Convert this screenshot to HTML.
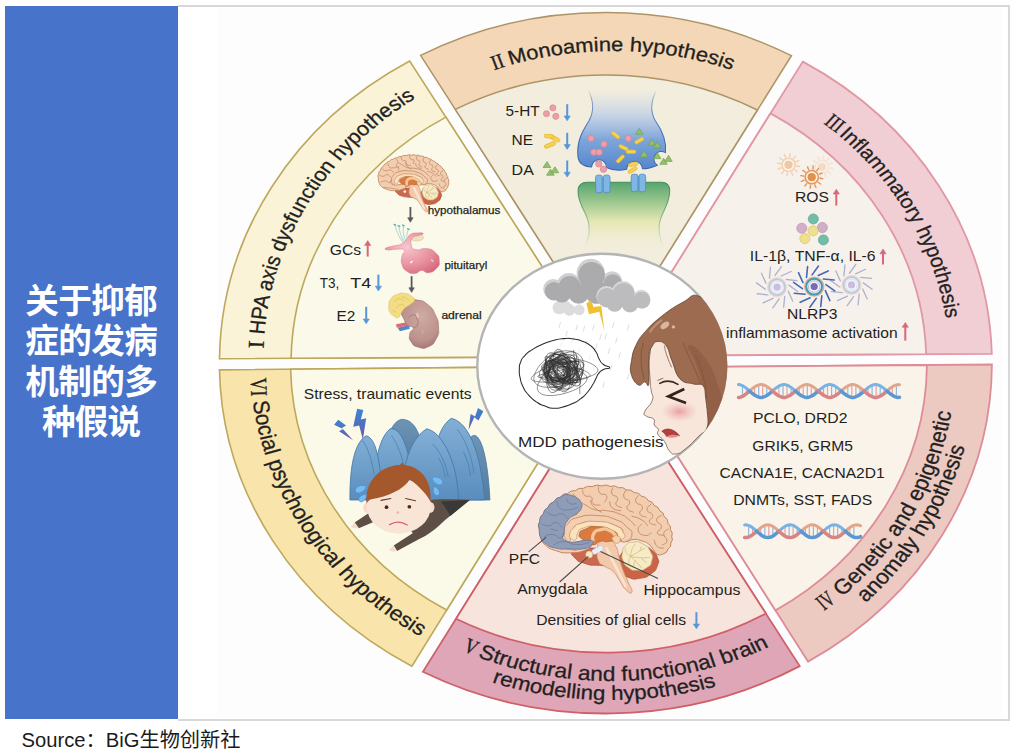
<!DOCTYPE html>
<html><head><meta charset="utf-8"><title>MDD pathogenesis hypotheses</title>
<style>
html,body{margin:0;padding:0;background:#fff;}
body{width:1012px;height:754px;overflow:hidden;font-family:"Liberation Sans",sans-serif;}
svg{display:block;position:absolute;left:0;top:0;}
text{font-family:"Liberation Sans",sans-serif;fill:#231f20;}
.rn{font-family:"Liberation Serif",serif;}
</style></head><body>
<svg width="1012" height="754" viewBox="0 0 1012 754">

<rect x="0" y="0" width="1012" height="754" fill="#fff"/>
<path d="M178 6.1 H1009 V720 H178" fill="none" stroke="#d8d8d8" stroke-width="2"/>
<rect x="217" y="8" width="786" height="710" fill="#fdfdfd"/>
<rect x="5" y="6" width="173" height="713" fill="#4773ca"/>
<text x="91.5" y="312.5" font-size="33.6" font-weight="bold" text-anchor="middle" textLength="132.5" lengthAdjust="spacing" style="fill:#fff;font-family:'Liberation Sans','Noto Sans CJK SC',sans-serif;">关于抑郁</text>
<text x="91.5" y="353" font-size="33.6" font-weight="bold" text-anchor="middle" textLength="132.5" lengthAdjust="spacing" style="fill:#fff;font-family:'Liberation Sans','Noto Sans CJK SC',sans-serif;">症的发病</text>
<text x="91.5" y="393.5" font-size="33.6" font-weight="bold" text-anchor="middle" textLength="132.5" lengthAdjust="spacing" style="fill:#fff;font-family:'Liberation Sans','Noto Sans CJK SC',sans-serif;">机制的多</text>
<text x="91.5" y="434" font-size="33.6" font-weight="bold" text-anchor="middle" textLength="99.2" lengthAdjust="spacing" style="fill:#fff;font-family:'Liberation Sans','Noto Sans CJK SC',sans-serif;">种假说</text>
<text x="21.5" y="747.3" font-size="20" text-anchor="start" textLength="219" lengthAdjust="spacingAndGlyphs" style="fill:#1a1a1a;font-family:'Liberation Sans','Noto Sans CJK SC',sans-serif;">Source：BiG生物创新社</text>
<path d="M991.8 353.9 A386.3 350.5 0 0 0 802.8 61.6 L619.4 355.7 Z" fill="#f0ced4" stroke="#e198a4" stroke-width="1.8" stroke-linejoin="miter"/>
<path d="M926.2 354.2 A320.7 291.0 0 0 0 770.5 113.4 L619.4 355.7 Z" fill="#f7f1ec" stroke="#e198a4" stroke-width="1.8" stroke-linejoin="miter"/>
<path d="M791.4 55.7 A386.3 350.5 0 0 0 420.6 55.4 L608.6 348.2 Z" fill="#f3d7b6" stroke="#ad9466" stroke-width="1.5" stroke-linejoin="miter"/>
<path d="M757.4 110.0 A317.4 288.0 0 0 0 455.3 109.4 L608.6 348.2 Z" fill="#f2eddc" stroke="#ad9466" stroke-width="1.5" stroke-linejoin="miter"/>
<path d="M409.7 61.0 A386.3 350.5 0 0 0 219.5 358.7 L600.0 356.6 Z" fill="#faf3d8" stroke="#bda85c" stroke-width="1.6" stroke-linejoin="miter"/>
<path d="M445.9 117.1 A314.6 285.5 0 0 0 291.1 358.3 L600.0 356.6 Z" fill="#fbf9e9" stroke="#bda85c" stroke-width="1.6" stroke-linejoin="miter"/>
<path d="M219.5 369.9 A386.3 350.5 0 0 0 411.9 666.2 L597.9 366.3 Z" fill="#f9e5ab" stroke="#bda85c" stroke-width="1.6" stroke-linejoin="miter"/>
<path d="M290.6 369.2 A315.2 286.0 0 0 0 446.7 610.0 L597.9 366.3 Z" fill="#fbf9e7" stroke="#bda85c" stroke-width="1.6" stroke-linejoin="miter"/>
<path d="M422.9 671.8 A386.3 350.5 0 0 0 799.7 666.1 L610.1 371.8 Z" fill="#dea6b7" stroke="#cf6068" stroke-width="1.8" stroke-linejoin="miter"/>
<path d="M456.0 618.8 A319.1 289.6 0 0 0 765.9 613.5 L610.1 371.8 Z" fill="#f7e5dd" stroke="#cf6068" stroke-width="1.8" stroke-linejoin="miter"/>
<path d="M808.0 661.6 A386.3 350.5 0 0 0 991.9 364.5 L621.2 367.6 Z" fill="#ecc9c1" stroke="#de8c96" stroke-width="1.8" stroke-linejoin="miter"/>
<path d="M775.5 610.4 A321.2 291.5 0 0 0 926.9 365.0 L621.2 367.6 Z" fill="#f9f3e9" stroke="#de8c96" stroke-width="1.8" stroke-linejoin="miter"/>
<g transform="translate(373.42,150.96) scale(0.08439)"><path d="M578.0 470.0 C594.7 443.3 582.7 456.7 610.0 440.0 C637.3 423.3 623.3 424.0 660.0 420.0 C696.7 416.0 684.0 416.0 720.0 428.0 C756.0 440.0 741.3 432.0 768.0 456.0 C794.7 480.0 789.3 468.7 800.0 500.0 C810.7 531.3 813.3 516.0 800.0 550.0 C786.7 584.0 796.7 575.3 760.0 602.0 C723.3 628.7 736.7 622.3 690.0 630.0 C643.3 637.7 656.7 638.3 620.0 625.0 C583.3 611.7 600.0 625.0 580.0 590.0 C560.0 555.0 560.7 560.0 560.0 520.0 C559.3 480.0 561.3 496.7 578.0 470.0Z" fill="#cb6446" stroke="#ab4e34" stroke-width="7.8"/>
<path d="M268.0 462.0 C283.0 443.7 279.3 457.3 330.0 450.0 C380.7 442.7 356.7 440.0 420.0 440.0 C483.3 440.0 480.0 430.0 520.0 450.0 C560.0 470.0 546.7 470.0 540.0 500.0 C533.3 530.0 540.0 524.0 500.0 540.0 C460.0 556.0 473.3 549.7 420.0 548.0 C366.7 546.3 385.0 549.3 340.0 535.0 C295.0 520.7 309.0 529.3 285.0 505.0 C261.0 480.7 253.0 480.3 268.0 462.0Z" fill="#cd6850" stroke="#ab4e34" stroke-width="7.8"/>
<path d="M440.0 400.0 C465.0 381.7 466.7 385.0 500.0 395.0 C533.3 405.0 520.0 395.0 540.0 430.0 C560.0 465.0 545.0 450.0 560.0 500.0 C575.0 550.0 566.7 530.0 585.0 580.0 C603.3 630.0 596.7 605.0 615.0 650.0 C633.3 695.0 645.0 698.3 640.0 715.0 C635.0 731.7 626.7 725.0 600.0 700.0 C573.3 675.0 586.7 678.3 560.0 640.0 C533.3 601.7 550.0 613.3 520.0 585.0 C490.0 556.7 500.0 576.7 470.0 555.0 C440.0 533.3 445.0 555.0 430.0 520.0 C415.0 485.0 421.7 490.0 425.0 450.0 C428.3 410.0 415.0 418.3 440.0 400.0Z" fill="#f2c9ab" stroke="#c98c6a" stroke-width="7.8"/>
<path d="M480.0 440.0 C493.3 466.7 493.3 466.7 520.0 520.0 C546.7 573.3 533.3 546.7 560.0 600.0 C586.7 653.3 586.7 653.3 600.0 680.0" fill="none" stroke="#fbe3cf" stroke-width="26.0" stroke-linecap="round"/>
<path d="M58 320 Q45.1 294.8 62 272 Q59.5 242.5 84 226 Q85.7 197.4 112 186 Q120.7 157.1 150 150 Q162.3 122.8 192 120 Q207.3 95.6 236 98 Q255.3 74.9 285 80 Q305.7 58.1 335 65 Q359.6 44.8 390 54 Q419.0 37.0 450 50 Q478.3 36.5 505 53 Q532.8 42.2 556 61 Q585.0 53.6 606 75 Q635.4 69.3 655 92 Q684.3 90.1 700 115 Q729.1 115.9 742 142 Q770.5 145.9 780 173 Q807.8 178.6 815 206 Q841.0 215.4 843 243 Q867.7 256.8 866 285 Q887.9 299.4 882 325 Q900.7 343.8 890 368 Q901.8 390.2 884 408 Q889.7 432.1 868 444 Q862.3 471.4 835 478 C824.5 478.6 818.0 488.4 800.0 480.0 C782.0 471.6 791.5 469.5 775.0 450.0 C758.5 430.5 767.5 431.8 745.0 415.0 C722.5 398.2 728.5 402.7 700.0 394.0 C671.5 385.3 680.0 384.2 650.0 386.0 C620.0 387.8 625.5 400.3 600.0 400.0 C574.5 399.7 565.0 404.5 565.0 385.0 C565.0 365.5 601.5 367.1 600.0 335.0 C598.5 302.9 614.0 305.3 560.0 278.0 C506.0 250.7 498.0 250.6 420.0 244.0 C342.0 237.4 358.8 231.7 300.0 256.0 C241.2 280.3 244.4 282.4 224.0 325.0 C203.6 367.6 187.6 377.9 232.0 398.0 C276.4 418.1 326.4 385.4 372.0 392.0 C417.6 398.6 390.6 402.0 384.0 420.0 C377.4 438.0 390.2 437.0 350.0 452.0 C309.8 467.0 307.0 469.1 250.0 470.0 C193.0 470.9 206.5 470.0 160.0 455.0 C113.5 440.0 123.2 444.9 95.0 420.0 C66.8 395.1 77.1 402.0 66.0 372.0 C54.9 342.0 60.4 335.6 58.0 320.0 Z" fill="#f3cdb0" stroke="#b97f58" stroke-width="9.4" stroke-linejoin="round"/>
<path d="M215.0 335.0 C220.0 301.7 211.7 314.0 240.0 285.0 C268.3 256.0 240.0 264.3 300.0 248.0 C360.0 231.7 340.0 231.3 420.0 236.0 C500.0 240.7 476.7 237.3 540.0 262.0 C603.3 286.7 576.7 280.7 610.0 310.0 C643.3 339.3 640.0 321.7 640.0 350.0 C640.0 378.3 633.3 383.3 610.0 395.0 C586.7 406.7 578.3 401.7 570.0 385.0 C561.7 368.3 595.0 373.3 585.0 345.0 C575.0 316.7 595.0 323.0 540.0 300.0 C485.0 277.0 496.7 279.3 420.0 276.0 C343.3 272.7 362.7 268.7 310.0 290.0 C257.3 311.3 282.0 305.0 262.0 340.0 C242.0 375.0 262.3 380.0 250.0 395.0 C237.7 410.0 236.7 405.0 225.0 385.0 C213.3 365.0 210.0 368.3 215.0 335.0Z" fill="#f3ceb0" stroke="#b97f58" stroke-width="7.8"/>
<path d="M250.0 352.0 C255.7 329.3 251.7 334.3 275.0 312.0 C298.3 289.7 271.7 298.0 320.0 285.0 C368.3 272.0 350.0 269.3 420.0 273.0 C490.0 276.7 474.0 272.0 530.0 296.0 C586.0 320.0 569.7 317.0 588.0 345.0 C606.3 373.0 596.0 371.0 585.0 380.0 C574.0 389.0 576.7 388.7 555.0 372.0 C533.3 355.3 565.0 352.3 520.0 330.0 C475.0 307.7 481.7 310.0 420.0 305.0 C358.3 300.0 375.0 301.7 335.0 315.0 C295.0 328.3 315.0 321.7 300.0 345.0 C285.0 368.3 304.0 373.3 290.0 385.0 C276.0 396.7 271.3 391.0 258.0 380.0 C244.7 369.0 244.3 374.7 250.0 352.0Z" fill="#f9e2bc" stroke="#c9966c" stroke-width="7.8"/>
<path d="M310.0 350.0 C316.7 328.3 313.3 334.7 350.0 320.0 C386.7 305.3 365.0 303.3 420.0 306.0 C475.0 308.7 469.7 306.0 515.0 328.0 C560.3 350.0 541.0 348.0 556.0 372.0 C571.0 396.0 572.0 392.3 560.0 400.0 C548.0 407.7 546.7 395.0 520.0 395.0 C493.3 395.0 506.7 399.0 480.0 400.0 C453.3 401.0 466.7 391.3 440.0 398.0 C413.3 404.7 422.7 419.3 400.0 420.0 C377.3 420.7 395.3 411.7 372.0 400.0 C348.7 388.3 350.7 401.7 330.0 385.0 C309.3 368.3 303.3 371.7 310.0 350.0Z" fill="#db7a3e" stroke="#b8602c" stroke-width="7.8"/>
<path d="M395.0 395.0 C396.7 380.0 385.0 373.3 400.0 350.0 C415.0 326.7 406.7 331.7 440.0 325.0 C473.3 318.3 466.7 316.7 500.0 330.0 C533.3 343.3 526.7 353.3 540.0 365.0" fill="none" stroke="#f3c79a" stroke-width="33.8" stroke-linecap="round"/>
<path d="M520.0 372.0 C530.0 361.3 540.7 359.3 556.0 366.0 C571.3 372.7 568.7 377.3 566.0 392.0 C563.3 406.7 561.3 408.0 548.0 410.0 C534.7 412.0 535.3 410.7 526.0 398.0 C516.7 385.3 510.0 382.7 520.0 372.0Z" fill="#f5d2a8" stroke="#c9966c" stroke-width="6.5"/>
<path d="M330.0 75.0 C335.0 86.7 326.7 95.0 345.0 110.0 C363.3 125.0 368.3 103.3 385.0 120.0 C401.7 136.7 376.7 143.3 395.0 160.0 C413.3 176.7 425.0 166.7 440.0 170.0" fill="none" stroke="#b97f58" stroke-width="7.8" stroke-linecap="round"/>
<path d="M430.0 56.0 C433.3 69.0 423.3 77.0 440.0 95.0 C456.7 113.0 470.0 91.7 480.0 110.0 C490.0 128.3 473.3 136.7 470.0 150.0" fill="none" stroke="#b97f58" stroke-width="7.8" stroke-linecap="round"/>
<path d="M520.0 62.0 C518.3 74.7 505.0 79.0 515.0 100.0 C525.0 121.0 541.7 103.3 550.0 125.0 C558.3 146.7 531.7 145.0 540.0 165.0 C548.3 185.0 563.3 178.3 575.0 185.0" fill="none" stroke="#b97f58" stroke-width="7.8" stroke-linecap="round"/>
<path d="M600.0 80.0 C596.7 93.3 581.7 96.7 590.0 120.0 C598.3 143.3 618.3 126.7 625.0 150.0 C631.7 173.3 601.7 168.3 610.0 190.0 C618.3 211.7 636.7 206.7 650.0 215.0" fill="none" stroke="#b97f58" stroke-width="7.8" stroke-linecap="round"/>
<path d="M680.0 110.0 C675.0 123.3 656.7 126.7 665.0 150.0 C673.3 173.3 696.7 155.0 705.0 180.0 C713.3 205.0 681.7 203.3 690.0 225.0 C698.3 246.7 716.7 238.3 730.0 245.0" fill="none" stroke="#b97f58" stroke-width="7.8" stroke-linecap="round"/>
<path d="M760.0 165.0 C751.7 176.7 731.7 176.7 735.0 200.0 C738.3 223.3 765.0 210.0 770.0 235.0 C775.0 260.0 743.3 255.0 750.0 275.0 C756.7 295.0 776.7 288.3 790.0 295.0" fill="none" stroke="#b97f58" stroke-width="7.8" stroke-linecap="round"/>
<path d="M825.0 235.0 C815.0 245.0 795.0 241.7 795.0 265.0 C795.0 288.3 823.3 278.3 825.0 305.0 C826.7 331.7 795.0 326.7 800.0 345.0 C805.0 363.3 826.7 355.0 840.0 360.0" fill="none" stroke="#b97f58" stroke-width="7.8" stroke-linecap="round"/>
<path d="M870.0 320.0 C860.0 330.0 843.3 325.0 840.0 350.0 C836.7 375.0 863.3 371.7 860.0 395.0 C856.7 418.3 840.0 411.7 830.0 420.0" fill="none" stroke="#b97f58" stroke-width="7.8" stroke-linecap="round"/>
<path d="M300.0 140.0 C316.7 150.0 313.3 150.0 350.0 170.0 C386.7 190.0 366.7 188.3 410.0 200.0 C453.3 211.7 430.0 196.7 480.0 205.0 C530.0 213.3 513.3 206.7 560.0 225.0 C606.7 243.3 586.7 235.0 620.0 260.0 C653.3 285.0 646.7 286.7 660.0 300.0" fill="none" stroke="#b97f58" stroke-width="7.8" stroke-linecap="round"/>
<path d="M700.0 290.0 C693.3 303.3 673.3 306.7 680.0 330.0 C686.7 353.3 693.3 355.0 720.0 360.0 C746.7 365.0 746.7 350.0 760.0 345.0" fill="none" stroke="#b97f58" stroke-width="7.8" stroke-linecap="round"/>
<path d="M640.0 240.0 C660.0 247.3 666.7 242.0 700.0 262.0 C733.3 282.0 726.7 287.3 740.0 300.0" fill="none" stroke="#b97f58" stroke-width="7.8" stroke-linecap="round"/>
<path d="M780.0 390.0 C786.7 403.3 780.0 413.3 800.0 430.0 C820.0 446.7 826.7 436.7 840.0 440.0" fill="none" stroke="#b97f58" stroke-width="7.8" stroke-linecap="round"/>
<path d="M270.0 100.0 C276.7 111.7 290.0 111.7 290.0 135.0 C290.0 158.3 266.7 148.3 270.0 170.0 C273.3 191.7 293.3 179.3 300.0 200.0 C306.7 220.7 293.3 221.3 290.0 232.0" fill="none" stroke="#b97f58" stroke-width="7.8" stroke-linecap="round"/>
<path d="M380.0 140.0 C386.7 153.3 376.7 155.0 400.0 180.0 C423.3 205.0 433.3 203.3 450.0 215.0" fill="none" stroke="#b97f58" stroke-width="7.8" stroke-linecap="round"/>
<path d="M500.0 150.0 C506.7 163.3 496.7 171.7 520.0 190.0 C543.3 208.3 553.3 200.0 570.0 205.0" fill="none" stroke="#b97f58" stroke-width="7.8" stroke-linecap="round"/>
<path d="M120.0 430.0 C146.7 433.3 143.3 431.7 200.0 440.0 C256.7 448.3 260.0 450.0 290.0 455.0" fill="none" stroke="#b97f58" stroke-width="7.8" stroke-linecap="round"/>
<path d="M170.0 150.0 C176.7 163.3 166.7 173.3 190.0 190.0 C213.3 206.7 203.3 201.7 240.0 200.0 C276.7 198.3 280.0 190.0 300.0 185.0" fill="none" stroke="#b97f58" stroke-width="7.8" stroke-linecap="round"/>
<path d="M110.0 215.0 C123.3 221.7 120.0 231.7 150.0 235.0 C180.0 238.3 171.7 218.3 200.0 225.0 C228.3 231.7 223.3 245.0 235.0 255.0" fill="none" stroke="#b97f58" stroke-width="7.8" stroke-linecap="round"/>
<path d="M75.0 290.0 C90.0 293.3 91.7 303.3 120.0 300.0 C148.3 296.7 133.3 276.7 160.0 280.0 C186.7 283.3 186.7 300.0 200.0 310.0" fill="none" stroke="#b97f58" stroke-width="7.8" stroke-linecap="round"/>
<path d="M90.0 370.0 C106.7 365.0 106.7 353.3 140.0 355.0 C173.3 356.7 165.0 376.7 190.0 375.0 C215.0 373.3 206.7 358.3 215.0 350.0" fill="none" stroke="#b97f58" stroke-width="7.8" stroke-linecap="round"/>
<path d="M580.0 470.0 C585.0 438.3 576.7 447.7 600.0 425.0 C623.3 402.3 613.3 405.3 650.0 402.0 C686.7 398.7 675.0 395.7 710.0 415.0 C745.0 434.3 736.7 425.0 755.0 460.0 C773.3 495.0 773.3 485.0 765.0 520.0 C756.7 555.0 761.7 545.0 730.0 565.0 C698.3 585.0 708.3 581.7 670.0 580.0 C631.7 578.3 643.3 580.0 615.0 560.0 C586.7 540.0 596.7 550.0 585.0 520.0 C573.3 490.0 575.0 501.7 580.0 470.0Z" fill="#f7ebc6" stroke="#c7ab78" stroke-width="7.8"/>
<path d="M632.0 492.0 C644.7 484.7 640.7 487.3 670.0 470.0 C699.3 452.7 703.3 450.0 720.0 440.0" fill="none" stroke="#cdb07c" stroke-width="6.5" stroke-linecap="round"/>
<path d="M632.0 492.0 C648.0 494.7 640.7 497.3 680.0 500.0 C719.3 502.7 726.7 500.0 750.0 500.0" fill="none" stroke="#cdb07c" stroke-width="6.5" stroke-linecap="round"/>
<path d="M632.0 492.0 C644.7 504.7 647.3 505.7 670.0 530.0 C692.7 554.3 690.0 553.3 700.0 565.0" fill="none" stroke="#cdb07c" stroke-width="6.5" stroke-linecap="round"/>
<path d="M632.0 492.0 C634.7 478.0 630.7 475.7 640.0 450.0 C649.3 424.3 653.3 426.7 660.0 415.0" fill="none" stroke="#cdb07c" stroke-width="6.5" stroke-linecap="round"/>
<path d="M632.0 492.0 C628.0 504.7 617.3 507.3 620.0 530.0 C622.7 552.7 633.3 550.0 640.0 560.0" fill="none" stroke="#cdb07c" stroke-width="6.5" stroke-linecap="round"/>
<path d="M632.0 492.0 C623.0 484.7 616.3 487.3 605.0 470.0 C593.7 452.7 600.3 450.0 598.0 440.0" fill="none" stroke="#cdb07c" stroke-width="6.5" stroke-linecap="round"/>
<path d="M690.0 455.0 C693.3 446.7 696.7 438.3 700.0 430.0" fill="none" stroke="#cdb07c" stroke-width="6.5" stroke-linecap="round"/>
<path d="M700.0 505.0 C710.0 513.3 720.0 521.7 730.0 530.0" fill="none" stroke="#cdb07c" stroke-width="6.5" stroke-linecap="round"/>
<path d="M660.0 520.0 C656.7 530.0 653.3 540.0 650.0 550.0" fill="none" stroke="#cdb07c" stroke-width="6.5" stroke-linecap="round"/><circle cx="372" cy="481" r="16" fill="#fbf0d0"/></g>
<path d="M410.4 207.0 L410.4 218.6" stroke="#58585a" stroke-width="1.8" fill="none"/><path d="M407.7 217.7 L410.4 222.3 L413.1 217.7 Z" fill="#58585a" stroke="#58585a" stroke-width=".6" stroke-linejoin="round"/>
<path d="M411.6 276.2 L411.6 288.7" stroke="#58585a" stroke-width="1.8" fill="none"/><path d="M408.9 287.8 L411.6 292.4 L414.3 287.8 Z" fill="#58585a" stroke="#58585a" stroke-width=".6" stroke-linejoin="round"/>
<g transform="translate(375,218) scale(0.17762)">
<defs><radialGradient id="pitG" cx="40%" cy="35%" r="75%"><stop offset="0" stop-color="#f7c6cf"/><stop offset="0.6" stop-color="#e9929f"/><stop offset="1" stop-color="#d4697f"/></radialGradient><radialGradient id="kidG" cx="55%" cy="35%" r="75%"><stop offset="0" stop-color="#cfaaa4"/><stop offset="0.65" stop-color="#bd928c"/><stop offset="1" stop-color="#976c68"/></radialGradient></defs>
<path d="M160 140 Q122 89 112 38" stroke="#b7d8cf" stroke-width="6" fill="none"/>
<ellipse cx="112" cy="38" rx="9" ry="5" fill="#5fb7ad" transform="rotate(25 112 38)"/>
<path d="M168 138 Q137 91 135 45" stroke="#b7d8cf" stroke-width="6" fill="none"/>
<ellipse cx="135" cy="45" rx="9" ry="5" fill="#5fb7ad" transform="rotate(25 135 45)"/>
<path d="M176 136 Q154 89 160 42" stroke="#b7d8cf" stroke-width="6" fill="none"/>
<ellipse cx="160" cy="42" rx="9" ry="5" fill="#5fb7ad" transform="rotate(25 160 42)"/>
<path d="M184 134 Q172 98 188 62" stroke="#b7d8cf" stroke-width="6" fill="none"/>
<ellipse cx="188" cy="62" rx="9" ry="5" fill="#5fb7ad" transform="rotate(25 188 62)"/>
<ellipse cx="238" cy="112" rx="36" ry="18" fill="#ede2bc" stroke="#cdbd8c" stroke-width="2.5" transform="rotate(-6 238 112)"/>
<path d="M58.0 172.0 C64.0 165.4 72.4 165.8 100.0 158.0 C127.6 150.2 126.6 157.4 150.0 146.0 C173.4 134.6 163.0 136.2 178.0 120.0 C193.0 103.8 181.4 102.8 200.0 92.0 C218.6 81.2 218.4 85.2 240.0 84.0 C261.6 82.8 272.0 83.2 272.0 88.0 C272.0 92.8 258.0 92.8 240.0 100.0 C222.0 107.2 222.8 97.0 212.0 112.0 C201.2 127.0 198.6 130.2 204.0 150.0 C209.4 169.8 204.2 171.4 230.0 178.0 C255.8 184.6 257.0 166.9 290.0 172.0 C323.0 177.1 318.4 174.6 340.0 195.0 C361.6 215.4 360.5 213.0 362.0 240.0 C363.5 267.0 363.6 264.6 345.0 285.0 C326.4 305.4 324.9 304.7 300.0 308.0 C275.1 311.3 284.5 294.8 262.0 296.0 C239.5 297.2 249.6 310.8 225.0 312.0 C200.4 313.2 201.9 315.0 180.0 300.0 C158.1 285.0 160.4 287.5 152.0 262.0 C143.6 236.5 148.1 239.0 152.0 215.0 C155.9 191.0 174.6 193.7 165.0 182.0 C155.4 170.3 145.5 176.6 120.0 176.0 C94.5 175.4 98.6 181.2 80.0 180.0 C61.4 178.8 52.0 178.6 58.0 172.0Z" fill="url(#pitG)" stroke="#cf6f86" stroke-width="2.5"/>
<ellipse cx="205" cy="248" rx="10" ry="5" fill="#fff" opacity=".8" transform="rotate(-35 205 248)"/>
<ellipse cx="322" cy="240" rx="9" ry="5" fill="#fff" opacity=".6" transform="rotate(40 322 240)"/>
<path d="M118 598 L185 585 L190 605 L123 618Z" fill="#db6f6f"/>
<path d="M128 618 L190 604 L196 624 L140 638Z" fill="#5c82cc"/>
<path d="M150.0 520.0 C156.0 490.0 158.0 492.4 185.0 475.0 C212.0 457.6 205.5 457.5 240.0 462.0 C274.5 466.5 270.0 465.1 300.0 490.0 C330.0 514.9 322.6 507.5 340.0 545.0 C357.4 582.5 356.5 574.5 358.0 615.0 C359.5 655.5 362.4 647.0 345.0 680.0 C327.6 713.0 330.0 710.6 300.0 725.0 C270.0 739.4 273.5 735.5 245.0 728.0 C216.5 720.5 220.0 721.9 205.0 700.0 C190.0 678.1 192.0 679.0 195.0 655.0 C198.0 631.0 218.0 635.0 215.0 620.0 C212.0 605.0 200.0 618.5 185.0 605.0 C170.0 591.5 175.5 600.5 165.0 575.0 C154.5 549.5 144.0 550.0 150.0 520.0Z" fill="url(#kidG)" stroke="#86605c" stroke-width="2.5"/>
<path d="M190.0 560.0 C198.3 555.0 200.0 543.3 215.0 545.0 C230.0 546.7 226.7 546.7 235.0 565.0 C243.3 583.3 245.0 582.3 240.0 600.0 C235.0 617.7 226.7 612.0 220.0 618.0" fill="none" stroke="#8d615e" stroke-width="3"/>
<ellipse cx="240" cy="548" rx="8" ry="16" fill="#e4c5c0" opacity=".8" transform="rotate(-20 240 548)"/>
<ellipse cx="268" cy="640" rx="5" ry="14" fill="#d4b2ae" opacity=".7" transform="rotate(10 268 640)"/>
<path d="M78.0 495.0 C79.7 470.0 74.3 476.7 90.0 455.0 C105.7 433.3 98.3 440.0 125.0 430.0 C151.7 420.0 143.3 421.7 170.0 425.0 C196.7 428.3 187.7 427.7 205.0 440.0 C222.3 452.3 223.7 447.0 222.0 462.0 C220.3 477.0 217.3 470.7 200.0 485.0 C182.7 499.3 186.7 490.0 170.0 505.0 C153.3 520.0 163.3 511.7 150.0 530.0 C136.7 548.3 145.0 553.3 130.0 560.0 C115.0 566.7 120.0 560.0 105.0 550.0 C90.0 540.0 94.0 548.3 85.0 530.0 C76.0 511.7 76.3 520.0 78.0 495.0Z" fill="#f3dd84" stroke="#d9be5e" stroke-width="3"/>
<path d="M110.0 470.0 C118.3 465.0 118.3 456.7 135.0 455.0 C151.7 453.3 151.7 461.7 160.0 465.0" fill="none" stroke="#d2b552" stroke-width="3" stroke-linecap="round"/>
<path d="M120.0 505.0 C126.7 500.0 125.0 495.0 140.0 490.0 C155.0 485.0 156.7 490.0 165.0 490.0" fill="none" stroke="#d2b552" stroke-width="3" stroke-linecap="round"/>
<path d="M150.0 445.0 C158.3 446.7 161.7 443.3 175.0 450.0 C188.3 456.7 185.0 460.0 190.0 465.0" fill="none" stroke="#d2b552" stroke-width="3" stroke-linecap="round"/>
<path d="M100.0 520.0 C106.0 523.3 112.0 526.7 118.0 530.0" fill="none" stroke="#d2b552" stroke-width="3" stroke-linecap="round"/>
</g>
<text x="427.8" y="213.6" font-size="10.9" text-anchor="start" fill="#231f20" textLength="72.6" lengthAdjust="spacingAndGlyphs" stroke="#231f20" stroke-width=".25">hypothalamus</text>
<text x="444.4" y="268.5" font-size="10.9" text-anchor="start" fill="#231f20" textLength="43.0" lengthAdjust="spacingAndGlyphs" stroke="#231f20" stroke-width=".25">pituitaryl</text>
<text x="441.4" y="318.7" font-size="10.9" text-anchor="start" fill="#231f20" textLength="40.4" lengthAdjust="spacingAndGlyphs" stroke="#231f20" stroke-width=".25">adrenal</text>
<text x="329.8" y="254.5" font-size="14.2" text-anchor="start" fill="#231f20" textLength="31.4" lengthAdjust="spacingAndGlyphs" >GCs</text>
<path d="M367.7 256.6 L367.7 244.4" stroke="#d9667b" stroke-width="2.0" fill="none"/><path d="M364.6 245.4 L367.7 240.6 L370.8 245.4 Z" fill="#d9667b" stroke="#d9667b" stroke-width=".6" stroke-linejoin="round"/>
<text x="319.8" y="287.5" font-size="14.2" text-anchor="start" fill="#231f20" textLength="19.5" lengthAdjust="spacingAndGlyphs" >T3,</text>
<text x="350.3" y="287.5" font-size="14.2" text-anchor="start" fill="#231f20" textLength="21.0" lengthAdjust="spacingAndGlyphs" >T4</text>
<path d="M378.4 274.6 L378.4 287.2" stroke="#5797d8" stroke-width="2.0" fill="none"/><path d="M375.3 286.2 L378.4 291.0 L381.5 286.2 Z" fill="#5797d8" stroke="#5797d8" stroke-width=".6" stroke-linejoin="round"/>
<text x="336.6" y="321.0" font-size="14.2" text-anchor="start" fill="#231f20" textLength="18.8" lengthAdjust="spacingAndGlyphs" >E2</text>
<path d="M366.2 306.8 L366.2 320.0" stroke="#5797d8" stroke-width="2.0" fill="none"/><path d="M363.1 319.0 L366.2 323.8 L369.3 319.0 Z" fill="#5797d8" stroke="#5797d8" stroke-width=".6" stroke-linejoin="round"/>
<g transform="translate(560,85) scale(0.22533)">
<defs>
<linearGradient id="preG" x1="0" y1="0" x2="0" y2="1"><stop offset="0" stop-color="#c9d6ea" stop-opacity="0"/><stop offset="0.3" stop-color="#bccde8" stop-opacity=".75"/><stop offset="0.62" stop-color="#7da5da"/><stop offset="1" stop-color="#5486cc"/></linearGradient>
<linearGradient id="preS" x1="0" y1="0" x2="0" y2="1"><stop offset="0" stop-color="#3f6db5" stop-opacity="0"/><stop offset="0.1" stop-color="#3f6db5" stop-opacity=".5"/><stop offset="0.5" stop-color="#3f6db5"/><stop offset="1" stop-color="#3a66ad"/></linearGradient>
<linearGradient id="postG" x1="0" y1="0" x2="0" y2="1"><stop offset="0" stop-color="#58a56f"/><stop offset="0.3" stop-color="#9cc78e"/><stop offset="0.6" stop-color="#e3e6ae" stop-opacity=".9"/><stop offset="1" stop-color="#f2eecb" stop-opacity="0"/></linearGradient>
<linearGradient id="postS" x1="0" y1="0" x2="0" y2="1"><stop offset="0" stop-color="#3f8f5b"/><stop offset="0.5" stop-color="#3f8f5b" stop-opacity=".6"/><stop offset="1" stop-color="#3f8f5b" stop-opacity="0"/></linearGradient>
</defs>
<path d="M125 22 C150 70 150 120 128 160 C100 205 72 250 80 320 C84 350 110 362 140 364 A33 33 0 0 1 206 366 C235 380 270 380 296 374 A35 35 0 0 1 366 372 C390 372 410 366 432 356 A30 30 0 0 1 468 300 C474 250 452 200 424 160 C400 120 404 70 428 22 Z" fill="url(#preG)"/>
<path d="M125 22 C150 70 150 120 128 160 C100 205 72 250 80 320 C84 350 110 362 140 364 A33 33 0 0 1 206 366 C235 380 270 380 296 374 A35 35 0 0 1 366 372 C390 372 410 366 432 356 A30 30 0 0 1 468 300 C474 250 452 200 424 160 C400 120 404 70 428 22" fill="none" stroke="url(#preS)" stroke-width="4.5"/>
<path d="M108 722 C140 660 132 610 112 570 C90 528 78 500 80 468 C82 444 96 432 120 432 L450 432 C474 432 486 444 487 468 C488 500 476 530 456 570 C436 610 430 660 462 722 Z" fill="url(#postG)"/>
<path d="M108 722 C140 660 132 610 112 570 C90 528 78 500 80 468 C82 444 96 432 120 432 L450 432 C474 432 486 444 487 468 C488 500 476 530 456 570 C436 610 430 660 462 722" fill="none" stroke="url(#postS)" stroke-width="4.5"/>
<rect x="158" y="400" width="30" height="78" rx="10" fill="#7fb6e4" stroke="#4c8ac4" stroke-width="3.5"/><rect x="192" y="400" width="30" height="78" rx="10" fill="#7fb6e4" stroke="#4c8ac4" stroke-width="3.5"/><rect x="185" y="408" width="10" height="62" rx="4" fill="#5d9dd4"/>
<rect x="316" y="396" width="30" height="78" rx="10" fill="#7fb6e4" stroke="#4c8ac4" stroke-width="3.5"/><rect x="350" y="396" width="30" height="78" rx="10" fill="#7fb6e4" stroke="#4c8ac4" stroke-width="3.5"/><rect x="343" y="404" width="10" height="62" rx="4" fill="#5d9dd4"/>
<circle cx="138" cy="237" r="14" fill="#ec9fa8" stroke="#d97f8c" stroke-width="3"/>
<circle cx="195" cy="262" r="14" fill="#ec9fa8" stroke="#d97f8c" stroke-width="3"/>
<circle cx="150" cy="298" r="14" fill="#ec9fa8" stroke="#d97f8c" stroke-width="3"/>
<circle cx="174" cy="298" r="14" fill="#ec9fa8" stroke="#d97f8c" stroke-width="3"/>
<circle cx="303" cy="237" r="14" fill="#ec9fa8" stroke="#d97f8c" stroke-width="3"/>
<circle cx="172" cy="350" r="14" fill="#ec9fa8" stroke="#d97f8c" stroke-width="3"/>
<circle cx="193" cy="374" r="14" fill="#ec9fa8" stroke="#d97f8c" stroke-width="3"/>
<rect x="225.0" y="214.5" width="44" height="15" rx="7.5" fill="#f5d34f" stroke="#e3b32f" stroke-width="3" transform="rotate(40 247 222)"/>
<rect x="330.0" y="239.5" width="44" height="15" rx="7.5" fill="#f5d34f" stroke="#e3b32f" stroke-width="3" transform="rotate(-30 352 247)"/>
<rect x="260.0" y="270.5" width="44" height="15" rx="7.5" fill="#f5d34f" stroke="#e3b32f" stroke-width="3" transform="rotate(25 282 278)"/>
<rect x="293.0" y="288.5" width="44" height="15" rx="7.5" fill="#f5d34f" stroke="#e3b32f" stroke-width="3" transform="rotate(0 315 296)"/>
<rect x="246.0" y="320.5" width="44" height="15" rx="7.5" fill="#f5d34f" stroke="#e3b32f" stroke-width="3" transform="rotate(-45 268 328)"/>
<rect x="303.0" y="344.5" width="44" height="15" rx="7.5" fill="#f5d34f" stroke="#e3b32f" stroke-width="3" transform="rotate(-12 325 352)"/>
<rect x="300.0" y="370.5" width="44" height="15" rx="7.5" fill="#f5d34f" stroke="#e3b32f" stroke-width="3" transform="rotate(-30 322 378)"/>
<path d="M352 192 L368 219 L335 219 Z" fill="#94c06d" stroke="#70a04d" stroke-width="3" stroke-linejoin="round"/>
<path d="M408 240 L424 267 L391 267 Z" fill="#94c06d" stroke="#70a04d" stroke-width="3" stroke-linejoin="round"/>
<path d="M432 252 L448 279 L415 279 Z" fill="#94c06d" stroke="#70a04d" stroke-width="3" stroke-linejoin="round"/>
<path d="M373 292 L389 319 L356 319 Z" fill="#94c06d" stroke="#70a04d" stroke-width="3" stroke-linejoin="round"/>
<path d="M432 300 L448 327 L415 327 Z" fill="#94c06d" stroke="#70a04d" stroke-width="3" stroke-linejoin="round"/>
<path d="M460 325 L476 352 L443 352 Z" fill="#94c06d" stroke="#70a04d" stroke-width="3" stroke-linejoin="round"/>
<path d="M482 312 L498 339 L465 339 Z" fill="#94c06d" stroke="#70a04d" stroke-width="3" stroke-linejoin="round"/>
</g>
<g transform="translate(490,80) scale(0.26525)">
<circle cx="213" cy="127" r="11.5" fill="#ec9fa8" stroke="#d97f8c" stroke-width="2.5"/>
<circle cx="237" cy="105" r="11.5" fill="#ec9fa8" stroke="#d97f8c" stroke-width="2.5"/>
<circle cx="248" cy="137" r="11.5" fill="#ec9fa8" stroke="#d97f8c" stroke-width="2.5"/>
<rect x="221.0" y="213.0" width="44" height="14" rx="7.0" fill="#f5d34f" stroke="#e3b32f" stroke-width="2.5" transform="rotate(28 243 220)"/>
<rect x="204.0" y="238.0" width="44" height="14" rx="7.0" fill="#f5d34f" stroke="#e3b32f" stroke-width="2.5" transform="rotate(-22 226 245)"/>
<rect x="204.0" y="205.5" width="36" height="13" rx="6.5" fill="#f5d34f" stroke="#e3b32f" stroke-width="2.5" transform="rotate(5 222 212)"/>
<path d="M215 307 L229 330 L200 330 Z" fill="#94c06d" stroke="#70a04d" stroke-width="2.5" stroke-linejoin="round"/>
<path d="M228 336 L242 359 L213 359 Z" fill="#94c06d" stroke="#70a04d" stroke-width="2.5" stroke-linejoin="round"/>
<path d="M245 327 L259 350 L230 350 Z" fill="#94c06d" stroke="#70a04d" stroke-width="2.5" stroke-linejoin="round"/>
</g>
<text x="505.6" y="115.9" font-size="14.2" text-anchor="start" fill="#231f20" textLength="34.0" lengthAdjust="spacingAndGlyphs" >5-HT</text>
<text x="511.6" y="145.1" font-size="14.2" text-anchor="start" fill="#231f20" textLength="21.5" lengthAdjust="spacingAndGlyphs" >NE</text>
<text x="511.6" y="174.8" font-size="14.2" text-anchor="start" fill="#231f20" textLength="22.2" lengthAdjust="spacingAndGlyphs" >DA</text>
<path d="M567.2 104.2 L567.2 117.0" stroke="#5797d8" stroke-width="2.0" fill="none"/><path d="M564.1 116.0 L567.2 120.8 L570.3 116.0 Z" fill="#5797d8" stroke="#5797d8" stroke-width=".6" stroke-linejoin="round"/>
<path d="M567.2 132.8 L567.2 145.6" stroke="#5797d8" stroke-width="2.0" fill="none"/><path d="M564.1 144.6 L567.2 149.4 L570.3 144.6 Z" fill="#5797d8" stroke="#5797d8" stroke-width=".6" stroke-linejoin="round"/>
<path d="M567.2 160.5 L567.2 173.3" stroke="#5797d8" stroke-width="2.0" fill="none"/><path d="M564.1 172.3 L567.2 177.1 L570.3 172.3 Z" fill="#5797d8" stroke="#5797d8" stroke-width=".6" stroke-linejoin="round"/>
<g transform="translate(760,150) scale(0.13263)">
<g opacity="1"><path d="M276.4 120.6 L298.2 123.7" stroke="#f3d0ae" stroke-width="11" stroke-linecap="round"/><path d="M263.9 150.2 L281.2 163.7" stroke="#f3d0ae" stroke-width="11" stroke-linecap="round"/><path d="M238.2 169.5 L246.5 189.9" stroke="#f3d0ae" stroke-width="11" stroke-linecap="round"/><path d="M206.4 173.4 L203.3 195.2" stroke="#f3d0ae" stroke-width="11" stroke-linecap="round"/><path d="M176.8 160.9 L163.3 178.2" stroke="#f3d0ae" stroke-width="11" stroke-linecap="round"/><path d="M157.5 135.2 L137.1 143.5" stroke="#f3d0ae" stroke-width="11" stroke-linecap="round"/><path d="M153.6 103.4 L131.8 100.3" stroke="#f3d0ae" stroke-width="11" stroke-linecap="round"/><path d="M166.1 73.8 L148.8 60.3" stroke="#f3d0ae" stroke-width="11" stroke-linecap="round"/><path d="M191.8 54.5 L183.5 34.1" stroke="#f3d0ae" stroke-width="11" stroke-linecap="round"/><path d="M223.6 50.6 L226.7 28.8" stroke="#f3d0ae" stroke-width="11" stroke-linecap="round"/><path d="M253.2 63.1 L266.7 45.8" stroke="#f3d0ae" stroke-width="11" stroke-linecap="round"/><path d="M272.5 88.8 L292.9 80.5" stroke="#f3d0ae" stroke-width="11" stroke-linecap="round"/><circle cx="215" cy="112" r="50" fill="#fbf3ee" stroke="#f3d0ae" stroke-width="12"/><circle cx="215" cy="112" r="31" fill="#f1c7a0"/></g>
<g opacity="1"><path d="M528.4 136.6 L550.2 139.7" stroke="#f5e3d3" stroke-width="11" stroke-linecap="round"/><path d="M515.9 166.2 L533.2 179.7" stroke="#f5e3d3" stroke-width="11" stroke-linecap="round"/><path d="M490.2 185.5 L498.5 205.9" stroke="#f5e3d3" stroke-width="11" stroke-linecap="round"/><path d="M458.4 189.4 L455.3 211.2" stroke="#f5e3d3" stroke-width="11" stroke-linecap="round"/><path d="M428.8 176.9 L415.3 194.2" stroke="#f5e3d3" stroke-width="11" stroke-linecap="round"/><path d="M409.5 151.2 L389.1 159.5" stroke="#f5e3d3" stroke-width="11" stroke-linecap="round"/><path d="M405.6 119.4 L383.8 116.3" stroke="#f5e3d3" stroke-width="11" stroke-linecap="round"/><path d="M418.1 89.8 L400.8 76.3" stroke="#f5e3d3" stroke-width="11" stroke-linecap="round"/><path d="M443.8 70.5 L435.5 50.1" stroke="#f5e3d3" stroke-width="11" stroke-linecap="round"/><path d="M475.6 66.6 L478.7 44.8" stroke="#f5e3d3" stroke-width="11" stroke-linecap="round"/><path d="M505.2 79.1 L518.7 61.8" stroke="#f5e3d3" stroke-width="11" stroke-linecap="round"/><path d="M524.5 104.8 L544.9 96.5" stroke="#f5e3d3" stroke-width="11" stroke-linecap="round"/><circle cx="467" cy="128" r="50" fill="#fbf3ee" stroke="#f5e3d3" stroke-width="12"/><circle cx="467" cy="128" r="31" fill="#f3dcc6"/></g>
<g opacity="1"><path d="M451.4 213.6 L473.2 216.7" stroke="#e6975a" stroke-width="11" stroke-linecap="round"/><path d="M438.9 243.2 L456.2 256.7" stroke="#e6975a" stroke-width="11" stroke-linecap="round"/><path d="M413.2 262.5 L421.5 282.9" stroke="#e6975a" stroke-width="11" stroke-linecap="round"/><path d="M381.4 266.4 L378.3 288.2" stroke="#e6975a" stroke-width="11" stroke-linecap="round"/><path d="M351.8 253.9 L338.3 271.2" stroke="#e6975a" stroke-width="11" stroke-linecap="round"/><path d="M332.5 228.2 L312.1 236.5" stroke="#e6975a" stroke-width="11" stroke-linecap="round"/><path d="M328.6 196.4 L306.8 193.3" stroke="#e6975a" stroke-width="11" stroke-linecap="round"/><path d="M341.1 166.8 L323.8 153.3" stroke="#e6975a" stroke-width="11" stroke-linecap="round"/><path d="M366.8 147.5 L358.5 127.1" stroke="#e6975a" stroke-width="11" stroke-linecap="round"/><path d="M398.6 143.6 L401.7 121.8" stroke="#e6975a" stroke-width="11" stroke-linecap="round"/><path d="M428.2 156.1 L441.7 138.8" stroke="#e6975a" stroke-width="11" stroke-linecap="round"/><path d="M447.5 181.8 L467.9 173.5" stroke="#e6975a" stroke-width="11" stroke-linecap="round"/><circle cx="390" cy="205" r="50" fill="#fbf3ee" stroke="#e6975a" stroke-width="12"/><circle cx="390" cy="205" r="31" fill="#e2914a"/></g>
<circle cx="402" cy="520" r="38" fill="#73bca7" stroke="#59a28d" stroke-width="5"/>
<circle cx="315" cy="590" r="38" fill="#d0afc7" stroke="#b78fb0" stroke-width="5"/>
<circle cx="470" cy="585" r="38" fill="#d0afc7" stroke="#b78fb0" stroke-width="5"/>
<circle cx="338" cy="668" r="38" fill="#efe08b" stroke="#d5c268" stroke-width="5"/>
<circle cx="478" cy="678" r="38" fill="#73bca7" stroke="#59a28d" stroke-width="5"/>
<circle cx="400" cy="610" r="38" fill="#efe08b" stroke="#d5c268" stroke-width="5"/>
</g>
<g transform="translate(745,262) scale(0.13833)">
<path d="M316.7 167.1 L380.8 213.0" stroke="#aeb0d4" stroke-width="9.5" stroke-linecap="round"/><path d="M312.8 211.4 L345.4 283.3" stroke="#aeb0d4" stroke-width="9.5" stroke-linecap="round"/><path d="M287.3 247.9 L279.5 326.4" stroke="#aeb0d4" stroke-width="9.5" stroke-linecap="round"/><path d="M246.9 266.7 L201.0 330.8" stroke="#aeb0d4" stroke-width="9.5" stroke-linecap="round"/><path d="M202.6 262.8 L130.7 295.4" stroke="#aeb0d4" stroke-width="9.5" stroke-linecap="round"/><path d="M166.1 237.3 L87.6 229.5" stroke="#aeb0d4" stroke-width="9.5" stroke-linecap="round"/><path d="M147.3 196.9 L83.2 151.0" stroke="#aeb0d4" stroke-width="9.5" stroke-linecap="round"/><path d="M151.2 152.6 L118.6 80.7" stroke="#aeb0d4" stroke-width="9.5" stroke-linecap="round"/><path d="M176.7 116.1 L184.5 37.6" stroke="#aeb0d4" stroke-width="9.5" stroke-linecap="round"/><path d="M217.1 97.3 L263.0 33.2" stroke="#aeb0d4" stroke-width="9.5" stroke-linecap="round"/><path d="M261.4 101.2 L333.3 68.6" stroke="#aeb0d4" stroke-width="9.5" stroke-linecap="round"/><path d="M297.9 126.7 L376.4 134.5" stroke="#aeb0d4" stroke-width="9.5" stroke-linecap="round"/><circle cx="232" cy="182" r="74" fill="#f1dcd4"/><circle cx="232" cy="182" r="57" fill="#f4f4f8" stroke="#bccbdc" stroke-width="14"/><circle cx="232" cy="182" r="41" fill="none" stroke="#b9b5d4" stroke-width="4.5" stroke-dasharray="5 4"/><circle cx="232" cy="182" r="26" fill="#cbbde0"/>
<path d="M854.7 151.1 L918.8 197.0" stroke="#aeb0d4" stroke-width="9.5" stroke-linecap="round"/><path d="M850.8 195.4 L883.4 267.3" stroke="#aeb0d4" stroke-width="9.5" stroke-linecap="round"/><path d="M825.3 231.9 L817.5 310.4" stroke="#aeb0d4" stroke-width="9.5" stroke-linecap="round"/><path d="M784.9 250.7 L739.0 314.8" stroke="#aeb0d4" stroke-width="9.5" stroke-linecap="round"/><path d="M740.6 246.8 L668.7 279.4" stroke="#aeb0d4" stroke-width="9.5" stroke-linecap="round"/><path d="M704.1 221.3 L625.6 213.5" stroke="#aeb0d4" stroke-width="9.5" stroke-linecap="round"/><path d="M685.3 180.9 L621.2 135.0" stroke="#aeb0d4" stroke-width="9.5" stroke-linecap="round"/><path d="M689.2 136.6 L656.6 64.7" stroke="#aeb0d4" stroke-width="9.5" stroke-linecap="round"/><path d="M714.7 100.1 L722.5 21.6" stroke="#aeb0d4" stroke-width="9.5" stroke-linecap="round"/><path d="M755.1 81.3 L801.0 17.2" stroke="#aeb0d4" stroke-width="9.5" stroke-linecap="round"/><path d="M799.4 85.2 L871.3 52.6" stroke="#aeb0d4" stroke-width="9.5" stroke-linecap="round"/><path d="M835.9 110.7 L914.4 118.5" stroke="#aeb0d4" stroke-width="9.5" stroke-linecap="round"/><circle cx="770" cy="166" r="74" fill="#f1dcd4"/><circle cx="770" cy="166" r="57" fill="#f4f4f8" stroke="#bccbdc" stroke-width="14"/><circle cx="770" cy="166" r="41" fill="none" stroke="#b9b5d4" stroke-width="4.5" stroke-dasharray="5 4"/><circle cx="770" cy="166" r="26" fill="#cbbde0"/>
<path d="M584.7 163.1 L648.8 209.0" stroke="#4767b2" stroke-width="11.5" stroke-linecap="round"/><path d="M580.8 207.4 L613.4 279.3" stroke="#4767b2" stroke-width="11.5" stroke-linecap="round"/><path d="M555.3 243.9 L547.5 322.4" stroke="#4767b2" stroke-width="11.5" stroke-linecap="round"/><path d="M514.9 262.7 L469.0 326.8" stroke="#4767b2" stroke-width="11.5" stroke-linecap="round"/><path d="M470.6 258.8 L398.7 291.4" stroke="#4767b2" stroke-width="11.5" stroke-linecap="round"/><path d="M434.1 233.3 L355.6 225.5" stroke="#4767b2" stroke-width="11.5" stroke-linecap="round"/><path d="M415.3 192.9 L351.2 147.0" stroke="#4767b2" stroke-width="11.5" stroke-linecap="round"/><path d="M419.2 148.6 L386.6 76.7" stroke="#4767b2" stroke-width="11.5" stroke-linecap="round"/><path d="M444.7 112.1 L452.5 33.6" stroke="#4767b2" stroke-width="11.5" stroke-linecap="round"/><path d="M485.1 93.3 L531.0 29.2" stroke="#4767b2" stroke-width="11.5" stroke-linecap="round"/><path d="M529.4 97.2 L601.3 64.6" stroke="#4767b2" stroke-width="11.5" stroke-linecap="round"/><path d="M565.9 122.7 L644.4 130.5" stroke="#4767b2" stroke-width="11.5" stroke-linecap="round"/><circle cx="500" cy="178" r="74" fill="#e9a999"/><circle cx="500" cy="178" r="57" fill="#f4f4f8" stroke="#3f9fb2" stroke-width="14"/><circle cx="500" cy="178" r="41" fill="none" stroke="#4a4a8a" stroke-width="4.5" stroke-dasharray="5 4"/><circle cx="500" cy="178" r="26" fill="#7a69b3"/>
</g>
<text x="795.0" y="201.6" font-size="14.2" text-anchor="start" fill="#231f20" textLength="34.0" lengthAdjust="spacingAndGlyphs" >ROS</text>
<path d="M836.3 205.6 L836.3 193.0" stroke="#d9667b" stroke-width="2.0" fill="none"/><path d="M833.2 194.0 L836.3 189.2 L839.4 194.0 Z" fill="#d9667b" stroke="#d9667b" stroke-width=".6" stroke-linejoin="round"/>
<text x="749.8" y="260.7" font-size="14.2" text-anchor="start" fill="#231f20" textLength="125.8" lengthAdjust="spacingAndGlyphs" >IL-1β, TNF-α, IL-6</text>
<path d="M883.0 264.4 L883.0 252.8" stroke="#d9667b" stroke-width="2.0" fill="none"/><path d="M879.9 253.8 L883.0 249.0 L886.1 253.8 Z" fill="#d9667b" stroke="#d9667b" stroke-width=".6" stroke-linejoin="round"/>
<text x="787.0" y="319.3" font-size="14.2" text-anchor="start" fill="#231f20" textLength="50.4" lengthAdjust="spacingAndGlyphs" >NLRP3</text>
<text x="726.0" y="337.6" font-size="14.2" text-anchor="start" fill="#231f20" textLength="171.6" lengthAdjust="spacingAndGlyphs" >inflammasome activation</text>
<path d="M905.3 340.6 L905.3 326.2" stroke="#d9667b" stroke-width="2.0" fill="none"/><path d="M902.2 327.2 L905.3 322.4 L908.4 327.2 Z" fill="#d9667b" stroke="#d9667b" stroke-width=".6" stroke-linejoin="round"/>
<path d="M742.5 386.7 V395.3" stroke="#8db9e2" stroke-width="1.2"/><path d="M746.5 389.4 V392.6" stroke="#e6a3a3" stroke-width="1.2"/><path d="M754.6 387.9 V394.1" stroke="#e6a3a3" stroke-width="1.2"/><path d="M758.7 385.9 V396.1" stroke="#8db9e2" stroke-width="1.2"/><path d="M762.7 385.8 V396.2" stroke="#e6a3a3" stroke-width="1.2"/><path d="M766.8 387.5 V394.5" stroke="#8db9e2" stroke-width="1.2"/><path d="M778.9 387.0 V395.0" stroke="#e6a3a3" stroke-width="1.2"/><path d="M783.0 385.7 V396.3" stroke="#8db9e2" stroke-width="1.2"/><path d="M787.0 386.2 V395.8" stroke="#e6a3a3" stroke-width="1.2"/><path d="M791.1 388.4 V393.6" stroke="#8db9e2" stroke-width="1.2"/><path d="M799.2 388.8 V393.2" stroke="#8db9e2" stroke-width="1.2"/><path d="M803.2 386.4 V395.6" stroke="#e6a3a3" stroke-width="1.2"/><path d="M807.3 385.6 V396.4" stroke="#8db9e2" stroke-width="1.2"/><path d="M811.3 386.8 V395.2" stroke="#e6a3a3" stroke-width="1.2"/><path d="M815.4 389.5 V392.5" stroke="#8db9e2" stroke-width="1.2"/><path d="M823.5 387.8 V394.2" stroke="#8db9e2" stroke-width="1.2"/><path d="M827.5 385.9 V396.1" stroke="#e6a3a3" stroke-width="1.2"/><path d="M831.6 385.8 V396.2" stroke="#8db9e2" stroke-width="1.2"/><path d="M835.6 387.6 V394.4" stroke="#e6a3a3" stroke-width="1.2"/><path d="M847.8 387.0 V395.0" stroke="#8db9e2" stroke-width="1.2"/><path d="M851.8 385.6 V396.4" stroke="#e6a3a3" stroke-width="1.2"/><path d="M855.9 386.2 V395.8" stroke="#8db9e2" stroke-width="1.2"/><path d="M859.9 388.5 V393.5" stroke="#e6a3a3" stroke-width="1.2"/><path d="M868.0 388.7 V393.3" stroke="#e6a3a3" stroke-width="1.2"/><path d="M872.1 386.3 V395.7" stroke="#8db9e2" stroke-width="1.2"/><path d="M876.1 385.6 V396.4" stroke="#e6a3a3" stroke-width="1.2"/><path d="M880.2 386.9 V395.1" stroke="#8db9e2" stroke-width="1.2"/><path d="M884.2 389.6 V392.4" stroke="#e6a3a3" stroke-width="1.2"/><path d="M892.3 387.7 V394.3" stroke="#e6a3a3" stroke-width="1.2"/><path d="M896.4 385.9 V396.1" stroke="#8db9e2" stroke-width="1.2"/><path d="M738.5 384.6 L740.1 384.8 L741.7 385.3 L743.3 386.1 L744.8 387.1 L746.4 388.3 L748.0 389.6 L749.6 391.0" fill="none" stroke="#79b2e4" stroke-width="3.0" stroke-linecap="round"/><path d="M738.5 397.4 L740.1 397.2 L741.7 396.7 L743.3 395.9 L744.8 394.9 L746.4 393.7 L748.0 392.4 L749.6 391.0" fill="none" stroke="#d98484" stroke-width="3.5" stroke-linecap="round"/><path d="M749.6 391.0 L751.1 389.7 L752.7 388.4 L754.2 387.2 L755.7 386.2 L757.2 385.5 L758.8 384.9 L760.3 384.6 L761.8 384.6 L763.3 384.9 L764.9 385.5 L766.4 386.2 L767.9 387.2 L769.4 388.4 L771.0 389.7 L772.5 391.0" fill="none" stroke="#e3a58a" stroke-width="3.0" stroke-linecap="round"/><path d="M749.6 391.0 L751.1 392.3 L752.7 393.6 L754.2 394.8 L755.7 395.8 L757.2 396.5 L758.8 397.1 L760.3 397.4 L761.8 397.4 L763.3 397.1 L764.9 396.5 L766.4 395.8 L767.9 394.8 L769.4 393.6 L771.0 392.3 L772.5 391.0" fill="none" stroke="#5b97d2" stroke-width="3.5" stroke-linecap="round"/><path d="M772.5 391.0 L774.0 389.7 L775.6 388.4 L777.1 387.2 L778.6 386.2 L780.1 385.5 L781.7 384.9 L783.2 384.6 L784.7 384.6 L786.2 384.9 L787.8 385.5 L789.3 386.2 L790.8 387.2 L792.3 388.4 L793.9 389.7 L795.4 391.0" fill="none" stroke="#79b2e4" stroke-width="3.0" stroke-linecap="round"/><path d="M772.5 391.0 L774.0 392.3 L775.6 393.6 L777.1 394.8 L778.6 395.8 L780.1 396.5 L781.7 397.1 L783.2 397.4 L784.7 397.4 L786.2 397.1 L787.8 396.5 L789.3 395.8 L790.8 394.8 L792.3 393.6 L793.9 392.3 L795.4 391.0" fill="none" stroke="#d98484" stroke-width="3.5" stroke-linecap="round"/><path d="M795.4 391.0 L796.9 389.7 L798.5 388.4 L800.0 387.2 L801.5 386.2 L803.0 385.5 L804.6 384.9 L806.1 384.6 L807.6 384.6 L809.1 384.9 L810.7 385.5 L812.2 386.2 L813.7 387.2 L815.2 388.4 L816.8 389.7 L818.3 391.0" fill="none" stroke="#e3a58a" stroke-width="3.0" stroke-linecap="round"/><path d="M795.4 391.0 L796.9 392.3 L798.5 393.6 L800.0 394.8 L801.5 395.8 L803.0 396.5 L804.6 397.1 L806.1 397.4 L807.6 397.4 L809.1 397.1 L810.7 396.5 L812.2 395.8 L813.7 394.8 L815.2 393.6 L816.8 392.3 L818.3 391.0" fill="none" stroke="#5b97d2" stroke-width="3.5" stroke-linecap="round"/><path d="M818.3 391.0 L819.8 389.7 L821.4 388.4 L822.9 387.2 L824.4 386.2 L825.9 385.5 L827.5 384.9 L829.0 384.6 L830.5 384.6 L832.0 384.9 L833.6 385.5 L835.1 386.2 L836.6 387.2 L838.1 388.4 L839.7 389.7 L841.2 391.0" fill="none" stroke="#79b2e4" stroke-width="3.0" stroke-linecap="round"/><path d="M818.3 391.0 L819.8 392.3 L821.4 393.6 L822.9 394.8 L824.4 395.8 L825.9 396.5 L827.5 397.1 L829.0 397.4 L830.5 397.4 L832.0 397.1 L833.6 396.5 L835.1 395.8 L836.6 394.8 L838.1 393.6 L839.7 392.3 L841.2 391.0" fill="none" stroke="#d98484" stroke-width="3.5" stroke-linecap="round"/><path d="M841.2 391.0 L842.7 389.7 L844.3 388.4 L845.8 387.2 L847.3 386.2 L848.8 385.5 L850.4 384.9 L851.9 384.6 L853.4 384.6 L854.9 384.9 L856.5 385.5 L858.0 386.2 L859.5 387.2 L861.0 388.4 L862.6 389.7 L864.1 391.0" fill="none" stroke="#e3a58a" stroke-width="3.0" stroke-linecap="round"/><path d="M841.2 391.0 L842.7 392.3 L844.3 393.6 L845.8 394.8 L847.3 395.8 L848.8 396.5 L850.4 397.1 L851.9 397.4 L853.4 397.4 L854.9 397.1 L856.5 396.5 L858.0 395.8 L859.5 394.8 L861.0 393.6 L862.6 392.3 L864.1 391.0" fill="none" stroke="#5b97d2" stroke-width="3.5" stroke-linecap="round"/><path d="M864.1 391.0 L865.6 389.7 L867.2 388.4 L868.7 387.2 L870.2 386.2 L871.7 385.5 L873.3 384.9 L874.8 384.6 L876.3 384.6 L877.8 384.9 L879.4 385.5 L880.9 386.2 L882.4 387.2 L883.9 388.4 L885.5 389.7 L887.0 391.0" fill="none" stroke="#79b2e4" stroke-width="3.0" stroke-linecap="round"/><path d="M864.1 391.0 L865.6 392.3 L867.2 393.6 L868.7 394.8 L870.2 395.8 L871.7 396.5 L873.3 397.1 L874.8 397.4 L876.3 397.4 L877.8 397.1 L879.4 396.5 L880.9 395.8 L882.4 394.8 L883.9 393.6 L885.5 392.3 L887.0 391.0" fill="none" stroke="#d98484" stroke-width="3.5" stroke-linecap="round"/><path d="M887.0 391.0 L888.6 389.6 L890.1 388.3 L891.7 387.2 L893.2 386.2 L894.8 385.4 L896.4 384.9 L897.9 384.6 L899.5 384.7" fill="none" stroke="#e3a58a" stroke-width="3.0" stroke-linecap="round"/><path d="M887.0 391.0 L888.6 392.4 L890.1 393.7 L891.7 394.8 L893.2 395.8 L894.8 396.6 L896.4 397.1 L897.9 397.4 L899.5 397.3" fill="none" stroke="#5b97d2" stroke-width="3.5" stroke-linecap="round"/>
<path d="M748.6 526.4 V536.0" stroke="#8db9e2" stroke-width="1.2"/><path d="M752.6 528.7 V533.7" stroke="#e6a3a3" stroke-width="1.2"/><path d="M760.7 528.7 V533.7" stroke="#e6a3a3" stroke-width="1.2"/><path d="M764.8 526.4 V536.0" stroke="#8db9e2" stroke-width="1.2"/><path d="M768.8 525.9 V536.5" stroke="#e6a3a3" stroke-width="1.2"/><path d="M772.9 527.4 V535.0" stroke="#8db9e2" stroke-width="1.2"/><path d="M785.0 527.3 V535.1" stroke="#e6a3a3" stroke-width="1.2"/><path d="M789.1 525.9 V536.5" stroke="#8db9e2" stroke-width="1.2"/><path d="M793.1 526.4 V536.0" stroke="#e6a3a3" stroke-width="1.2"/><path d="M797.2 528.8 V533.6" stroke="#8db9e2" stroke-width="1.2"/><path d="M805.3 528.6 V533.8" stroke="#8db9e2" stroke-width="1.2"/><path d="M809.3 526.3 V536.1" stroke="#e6a3a3" stroke-width="1.2"/><path d="M813.4 525.9 V536.5" stroke="#8db9e2" stroke-width="1.2"/><path d="M817.4 527.5 V534.9" stroke="#e6a3a3" stroke-width="1.2"/><path d="M829.6 527.2 V535.2" stroke="#8db9e2" stroke-width="1.2"/><path d="M833.6 525.8 V536.6" stroke="#e6a3a3" stroke-width="1.2"/><path d="M837.7 526.5 V535.9" stroke="#8db9e2" stroke-width="1.2"/><path d="M841.7 529.0 V533.4" stroke="#e6a3a3" stroke-width="1.2"/><path d="M849.8 528.5 V533.9" stroke="#e6a3a3" stroke-width="1.2"/><path d="M853.9 526.3 V536.1" stroke="#8db9e2" stroke-width="1.2"/><path d="M744.6 524.9 L746.1 524.8 L747.6 525.1 L749.1 525.6 L750.7 526.4 L752.2 527.4 L753.7 528.5 L755.2 529.8 L756.7 531.2" fill="none" stroke="#79b2e4" stroke-width="3.0" stroke-linecap="round"/><path d="M744.6 537.5 L746.1 537.6 L747.6 537.3 L749.1 536.8 L750.7 536.0 L752.2 535.0 L753.7 533.9 L755.2 532.6 L756.7 531.2" fill="none" stroke="#d98484" stroke-width="3.5" stroke-linecap="round"/><path d="M756.7 531.2 L758.3 529.8 L759.9 528.4 L761.5 527.2 L763.0 526.2 L764.6 525.4 L766.2 525.0 L767.8 524.8 L769.4 525.0 L771.0 525.4 L772.6 526.2 L774.1 527.2 L775.7 528.4 L777.3 529.8 L778.9 531.2" fill="none" stroke="#e3a58a" stroke-width="3.0" stroke-linecap="round"/><path d="M756.7 531.2 L758.3 532.6 L759.9 534.0 L761.5 535.2 L763.0 536.2 L764.6 537.0 L766.2 537.4 L767.8 537.6 L769.4 537.4 L771.0 537.0 L772.6 536.2 L774.1 535.2 L775.7 534.0 L777.3 532.6 L778.9 531.2" fill="none" stroke="#5b97d2" stroke-width="3.5" stroke-linecap="round"/><path d="M778.9 531.2 L780.5 529.8 L782.1 528.4 L783.7 527.2 L785.2 526.2 L786.8 525.4 L788.4 525.0 L790.0 524.8 L791.6 525.0 L793.2 525.4 L794.8 526.2 L796.3 527.2 L797.9 528.4 L799.5 529.8 L801.1 531.2" fill="none" stroke="#79b2e4" stroke-width="3.0" stroke-linecap="round"/><path d="M778.9 531.2 L780.5 532.6 L782.1 534.0 L783.7 535.2 L785.2 536.2 L786.8 537.0 L788.4 537.4 L790.0 537.6 L791.6 537.4 L793.2 537.0 L794.8 536.2 L796.3 535.2 L797.9 534.0 L799.5 532.6 L801.1 531.2" fill="none" stroke="#d98484" stroke-width="3.5" stroke-linecap="round"/><path d="M801.1 531.2 L802.7 529.8 L804.3 528.4 L805.9 527.2 L807.4 526.2 L809.0 525.4 L810.6 525.0 L812.2 524.8 L813.8 525.0 L815.4 525.4 L817.0 526.2 L818.5 527.2 L820.1 528.4 L821.7 529.8 L823.3 531.2" fill="none" stroke="#e3a58a" stroke-width="3.0" stroke-linecap="round"/><path d="M801.1 531.2 L802.7 532.6 L804.3 534.0 L805.9 535.2 L807.4 536.2 L809.0 537.0 L810.6 537.4 L812.2 537.6 L813.8 537.4 L815.4 537.0 L817.0 536.2 L818.5 535.2 L820.1 534.0 L821.7 532.6 L823.3 531.2" fill="none" stroke="#5b97d2" stroke-width="3.5" stroke-linecap="round"/><path d="M823.3 531.2 L824.9 529.8 L826.5 528.4 L828.1 527.2 L829.6 526.2 L831.2 525.4 L832.8 525.0 L834.4 524.8 L836.0 525.0 L837.6 525.4 L839.2 526.2 L840.7 527.2 L842.3 528.4 L843.9 529.8 L845.5 531.2" fill="none" stroke="#79b2e4" stroke-width="3.0" stroke-linecap="round"/><path d="M823.3 531.2 L824.9 532.6 L826.5 534.0 L828.1 535.2 L829.6 536.2 L831.2 537.0 L832.8 537.4 L834.4 537.6 L836.0 537.4 L837.6 537.0 L839.2 536.2 L840.7 535.2 L842.3 534.0 L843.9 532.6 L845.5 531.2" fill="none" stroke="#d98484" stroke-width="3.5" stroke-linecap="round"/><path d="M845.5 531.2 L847.0 529.8 L848.5 528.5 L850.0 527.4 L851.5 526.4 L853.1 525.6 L854.6 525.1 L856.1 524.8 L857.6 524.9 L859.1 525.2 L860.6 525.8" fill="none" stroke="#e3a58a" stroke-width="3.0" stroke-linecap="round"/><path d="M845.5 531.2 L847.0 532.6 L848.5 533.9 L850.0 535.0 L851.5 536.0 L853.1 536.8 L854.6 537.3 L856.1 537.6 L857.6 537.5 L859.1 537.2 L860.6 536.6" fill="none" stroke="#5b97d2" stroke-width="3.5" stroke-linecap="round"/>
<text x="753.0" y="423.2" font-size="14.2" text-anchor="start" fill="#231f20" textLength="94.4" lengthAdjust="spacingAndGlyphs" >PCLO, DRD2</text>
<text x="752.3" y="450.7" font-size="14.2" text-anchor="start" fill="#231f20" textLength="100.6" lengthAdjust="spacingAndGlyphs" >GRIK5, GRM5</text>
<text x="719.6" y="477.8" font-size="14.2" text-anchor="start" fill="#231f20" textLength="165.0" lengthAdjust="spacingAndGlyphs" >CACNA1E, CACNA2D1</text>
<text x="733.2" y="504.9" font-size="14.2" text-anchor="start" fill="#231f20" textLength="139.0" lengthAdjust="spacingAndGlyphs" >DNMTs, SST, FADS</text>
<g transform="translate(530,478) scale(0.15924)">
<path d="M578.0 470.0 C594.7 443.3 582.7 456.7 610.0 440.0 C637.3 423.3 623.3 424.0 660.0 420.0 C696.7 416.0 684.0 416.0 720.0 428.0 C756.0 440.0 741.3 432.0 768.0 456.0 C794.7 480.0 789.3 468.7 800.0 500.0 C810.7 531.3 813.3 516.0 800.0 550.0 C786.7 584.0 796.7 575.3 760.0 602.0 C723.3 628.7 736.7 622.3 690.0 630.0 C643.3 637.7 656.7 638.3 620.0 625.0 C583.3 611.7 600.0 625.0 580.0 590.0 C560.0 555.0 560.7 560.0 560.0 520.0 C559.3 480.0 561.3 496.7 578.0 470.0Z" fill="#cb6446" stroke="#ab4e34" stroke-width="4.8"/>
<path d="M268.0 462.0 C283.0 443.7 279.3 457.3 330.0 450.0 C380.7 442.7 356.7 440.0 420.0 440.0 C483.3 440.0 480.0 430.0 520.0 450.0 C560.0 470.0 546.7 470.0 540.0 500.0 C533.3 530.0 540.0 524.0 500.0 540.0 C460.0 556.0 473.3 549.7 420.0 548.0 C366.7 546.3 385.0 549.3 340.0 535.0 C295.0 520.7 309.0 529.3 285.0 505.0 C261.0 480.7 253.0 480.3 268.0 462.0Z" fill="#cd6850" stroke="#ab4e34" stroke-width="4.8"/>
<path d="M440.0 400.0 C465.0 381.7 466.7 385.0 500.0 395.0 C533.3 405.0 520.0 395.0 540.0 430.0 C560.0 465.0 545.0 450.0 560.0 500.0 C575.0 550.0 566.7 530.0 585.0 580.0 C603.3 630.0 596.7 605.0 615.0 650.0 C633.3 695.0 645.0 698.3 640.0 715.0 C635.0 731.7 626.7 725.0 600.0 700.0 C573.3 675.0 586.7 678.3 560.0 640.0 C533.3 601.7 550.0 613.3 520.0 585.0 C490.0 556.7 500.0 576.7 470.0 555.0 C440.0 533.3 445.0 555.0 430.0 520.0 C415.0 485.0 421.7 490.0 425.0 450.0 C428.3 410.0 415.0 418.3 440.0 400.0Z" fill="#f2c9ab" stroke="#c98c6a" stroke-width="4.8"/>
<path d="M480.0 440.0 C493.3 466.7 493.3 466.7 520.0 520.0 C546.7 573.3 533.3 546.7 560.0 600.0 C586.7 653.3 586.7 653.3 600.0 680.0" fill="none" stroke="#fbe3cf" stroke-width="16.0" stroke-linecap="round"/>
<path d="M58 320 Q45.1 294.8 62 272 Q59.5 242.5 84 226 Q85.7 197.4 112 186 Q120.7 157.1 150 150 Q162.3 122.8 192 120 Q207.3 95.6 236 98 Q255.3 74.9 285 80 Q305.7 58.1 335 65 Q359.6 44.8 390 54 Q419.0 37.0 450 50 Q478.3 36.5 505 53 Q532.8 42.2 556 61 Q585.0 53.6 606 75 Q635.4 69.3 655 92 Q684.3 90.1 700 115 Q729.1 115.9 742 142 Q770.5 145.9 780 173 Q807.8 178.6 815 206 Q841.0 215.4 843 243 Q867.7 256.8 866 285 Q887.9 299.4 882 325 Q900.7 343.8 890 368 Q901.8 390.2 884 408 Q889.7 432.1 868 444 Q862.3 471.4 835 478 C824.5 478.6 818.0 488.4 800.0 480.0 C782.0 471.6 791.5 469.5 775.0 450.0 C758.5 430.5 767.5 431.8 745.0 415.0 C722.5 398.2 728.5 402.7 700.0 394.0 C671.5 385.3 680.0 384.2 650.0 386.0 C620.0 387.8 625.5 400.3 600.0 400.0 C574.5 399.7 565.0 404.5 565.0 385.0 C565.0 365.5 601.5 367.1 600.0 335.0 C598.5 302.9 614.0 305.3 560.0 278.0 C506.0 250.7 498.0 250.6 420.0 244.0 C342.0 237.4 358.8 231.7 300.0 256.0 C241.2 280.3 244.4 282.4 224.0 325.0 C203.6 367.6 187.6 377.9 232.0 398.0 C276.4 418.1 326.4 385.4 372.0 392.0 C417.6 398.6 390.6 402.0 384.0 420.0 C377.4 438.0 390.2 437.0 350.0 452.0 C309.8 467.0 307.0 469.1 250.0 470.0 C193.0 470.9 206.5 470.0 160.0 455.0 C113.5 440.0 123.2 444.9 95.0 420.0 C66.8 395.1 77.1 402.0 66.0 372.0 C54.9 342.0 60.4 335.6 58.0 320.0 Z" fill="#f3cdb0" stroke="#b97f58" stroke-width="5.8" stroke-linejoin="round"/>
<path d="M215.0 335.0 C220.0 301.7 211.7 314.0 240.0 285.0 C268.3 256.0 240.0 264.3 300.0 248.0 C360.0 231.7 340.0 231.3 420.0 236.0 C500.0 240.7 476.7 237.3 540.0 262.0 C603.3 286.7 576.7 280.7 610.0 310.0 C643.3 339.3 640.0 321.7 640.0 350.0 C640.0 378.3 633.3 383.3 610.0 395.0 C586.7 406.7 578.3 401.7 570.0 385.0 C561.7 368.3 595.0 373.3 585.0 345.0 C575.0 316.7 595.0 323.0 540.0 300.0 C485.0 277.0 496.7 279.3 420.0 276.0 C343.3 272.7 362.7 268.7 310.0 290.0 C257.3 311.3 282.0 305.0 262.0 340.0 C242.0 375.0 262.3 380.0 250.0 395.0 C237.7 410.0 236.7 405.0 225.0 385.0 C213.3 365.0 210.0 368.3 215.0 335.0Z" fill="#f3ceb0" stroke="#b97f58" stroke-width="4.8"/>
<path d="M250.0 352.0 C255.7 329.3 251.7 334.3 275.0 312.0 C298.3 289.7 271.7 298.0 320.0 285.0 C368.3 272.0 350.0 269.3 420.0 273.0 C490.0 276.7 474.0 272.0 530.0 296.0 C586.0 320.0 569.7 317.0 588.0 345.0 C606.3 373.0 596.0 371.0 585.0 380.0 C574.0 389.0 576.7 388.7 555.0 372.0 C533.3 355.3 565.0 352.3 520.0 330.0 C475.0 307.7 481.7 310.0 420.0 305.0 C358.3 300.0 375.0 301.7 335.0 315.0 C295.0 328.3 315.0 321.7 300.0 345.0 C285.0 368.3 304.0 373.3 290.0 385.0 C276.0 396.7 271.3 391.0 258.0 380.0 C244.7 369.0 244.3 374.7 250.0 352.0Z" fill="#f9e2bc" stroke="#c9966c" stroke-width="4.8"/>
<path d="M310.0 350.0 C316.7 328.3 313.3 334.7 350.0 320.0 C386.7 305.3 365.0 303.3 420.0 306.0 C475.0 308.7 469.7 306.0 515.0 328.0 C560.3 350.0 541.0 348.0 556.0 372.0 C571.0 396.0 572.0 392.3 560.0 400.0 C548.0 407.7 546.7 395.0 520.0 395.0 C493.3 395.0 506.7 399.0 480.0 400.0 C453.3 401.0 466.7 391.3 440.0 398.0 C413.3 404.7 422.7 419.3 400.0 420.0 C377.3 420.7 395.3 411.7 372.0 400.0 C348.7 388.3 350.7 401.7 330.0 385.0 C309.3 368.3 303.3 371.7 310.0 350.0Z" fill="#db7a3e" stroke="#b8602c" stroke-width="4.8"/>
<path d="M395.0 395.0 C396.7 380.0 385.0 373.3 400.0 350.0 C415.0 326.7 406.7 331.7 440.0 325.0 C473.3 318.3 466.7 316.7 500.0 330.0 C533.3 343.3 526.7 353.3 540.0 365.0" fill="none" stroke="#f3c79a" stroke-width="20.8" stroke-linecap="round"/>
<path d="M520.0 372.0 C530.0 361.3 540.7 359.3 556.0 366.0 C571.3 372.7 568.7 377.3 566.0 392.0 C563.3 406.7 561.3 408.0 548.0 410.0 C534.7 412.0 535.3 410.7 526.0 398.0 C516.7 385.3 510.0 382.7 520.0 372.0Z" fill="#f5d2a8" stroke="#c9966c" stroke-width="4.0"/>
<path d="M330.0 75.0 C335.0 86.7 326.7 95.0 345.0 110.0 C363.3 125.0 368.3 103.3 385.0 120.0 C401.7 136.7 376.7 143.3 395.0 160.0 C413.3 176.7 425.0 166.7 440.0 170.0" fill="none" stroke="#b97f58" stroke-width="4.8" stroke-linecap="round"/>
<path d="M430.0 56.0 C433.3 69.0 423.3 77.0 440.0 95.0 C456.7 113.0 470.0 91.7 480.0 110.0 C490.0 128.3 473.3 136.7 470.0 150.0" fill="none" stroke="#b97f58" stroke-width="4.8" stroke-linecap="round"/>
<path d="M520.0 62.0 C518.3 74.7 505.0 79.0 515.0 100.0 C525.0 121.0 541.7 103.3 550.0 125.0 C558.3 146.7 531.7 145.0 540.0 165.0 C548.3 185.0 563.3 178.3 575.0 185.0" fill="none" stroke="#b97f58" stroke-width="4.8" stroke-linecap="round"/>
<path d="M600.0 80.0 C596.7 93.3 581.7 96.7 590.0 120.0 C598.3 143.3 618.3 126.7 625.0 150.0 C631.7 173.3 601.7 168.3 610.0 190.0 C618.3 211.7 636.7 206.7 650.0 215.0" fill="none" stroke="#b97f58" stroke-width="4.8" stroke-linecap="round"/>
<path d="M680.0 110.0 C675.0 123.3 656.7 126.7 665.0 150.0 C673.3 173.3 696.7 155.0 705.0 180.0 C713.3 205.0 681.7 203.3 690.0 225.0 C698.3 246.7 716.7 238.3 730.0 245.0" fill="none" stroke="#b97f58" stroke-width="4.8" stroke-linecap="round"/>
<path d="M760.0 165.0 C751.7 176.7 731.7 176.7 735.0 200.0 C738.3 223.3 765.0 210.0 770.0 235.0 C775.0 260.0 743.3 255.0 750.0 275.0 C756.7 295.0 776.7 288.3 790.0 295.0" fill="none" stroke="#b97f58" stroke-width="4.8" stroke-linecap="round"/>
<path d="M825.0 235.0 C815.0 245.0 795.0 241.7 795.0 265.0 C795.0 288.3 823.3 278.3 825.0 305.0 C826.7 331.7 795.0 326.7 800.0 345.0 C805.0 363.3 826.7 355.0 840.0 360.0" fill="none" stroke="#b97f58" stroke-width="4.8" stroke-linecap="round"/>
<path d="M870.0 320.0 C860.0 330.0 843.3 325.0 840.0 350.0 C836.7 375.0 863.3 371.7 860.0 395.0 C856.7 418.3 840.0 411.7 830.0 420.0" fill="none" stroke="#b97f58" stroke-width="4.8" stroke-linecap="round"/>
<path d="M300.0 140.0 C316.7 150.0 313.3 150.0 350.0 170.0 C386.7 190.0 366.7 188.3 410.0 200.0 C453.3 211.7 430.0 196.7 480.0 205.0 C530.0 213.3 513.3 206.7 560.0 225.0 C606.7 243.3 586.7 235.0 620.0 260.0 C653.3 285.0 646.7 286.7 660.0 300.0" fill="none" stroke="#b97f58" stroke-width="4.8" stroke-linecap="round"/>
<path d="M700.0 290.0 C693.3 303.3 673.3 306.7 680.0 330.0 C686.7 353.3 693.3 355.0 720.0 360.0 C746.7 365.0 746.7 350.0 760.0 345.0" fill="none" stroke="#b97f58" stroke-width="4.8" stroke-linecap="round"/>
<path d="M640.0 240.0 C660.0 247.3 666.7 242.0 700.0 262.0 C733.3 282.0 726.7 287.3 740.0 300.0" fill="none" stroke="#b97f58" stroke-width="4.8" stroke-linecap="round"/>
<path d="M780.0 390.0 C786.7 403.3 780.0 413.3 800.0 430.0 C820.0 446.7 826.7 436.7 840.0 440.0" fill="none" stroke="#b97f58" stroke-width="4.8" stroke-linecap="round"/>
<path d="M270.0 100.0 C276.7 111.7 290.0 111.7 290.0 135.0 C290.0 158.3 266.7 148.3 270.0 170.0 C273.3 191.7 293.3 179.3 300.0 200.0 C306.7 220.7 293.3 221.3 290.0 232.0" fill="none" stroke="#b97f58" stroke-width="4.8" stroke-linecap="round"/>
<path d="M380.0 140.0 C386.7 153.3 376.7 155.0 400.0 180.0 C423.3 205.0 433.3 203.3 450.0 215.0" fill="none" stroke="#b97f58" stroke-width="4.8" stroke-linecap="round"/>
<path d="M500.0 150.0 C506.7 163.3 496.7 171.7 520.0 190.0 C543.3 208.3 553.3 200.0 570.0 205.0" fill="none" stroke="#b97f58" stroke-width="4.8" stroke-linecap="round"/>
<path d="M120.0 430.0 C146.7 433.3 143.3 431.7 200.0 440.0 C256.7 448.3 260.0 450.0 290.0 455.0" fill="none" stroke="#b97f58" stroke-width="4.8" stroke-linecap="round"/>
<path d="M170.0 150.0 C176.7 163.3 166.7 173.3 190.0 190.0 C213.3 206.7 203.3 201.7 240.0 200.0 C276.7 198.3 280.0 190.0 300.0 185.0" fill="none" stroke="#b97f58" stroke-width="4.8" stroke-linecap="round"/>
<path d="M110.0 215.0 C123.3 221.7 120.0 231.7 150.0 235.0 C180.0 238.3 171.7 218.3 200.0 225.0 C228.3 231.7 223.3 245.0 235.0 255.0" fill="none" stroke="#b97f58" stroke-width="4.8" stroke-linecap="round"/>
<path d="M75.0 290.0 C90.0 293.3 91.7 303.3 120.0 300.0 C148.3 296.7 133.3 276.7 160.0 280.0 C186.7 283.3 186.7 300.0 200.0 310.0" fill="none" stroke="#b97f58" stroke-width="4.8" stroke-linecap="round"/>
<path d="M90.0 370.0 C106.7 365.0 106.7 353.3 140.0 355.0 C173.3 356.7 165.0 376.7 190.0 375.0 C215.0 373.3 206.7 358.3 215.0 350.0" fill="none" stroke="#b97f58" stroke-width="4.8" stroke-linecap="round"/>
<path d="M580.0 470.0 C585.0 438.3 576.7 447.7 600.0 425.0 C623.3 402.3 613.3 405.3 650.0 402.0 C686.7 398.7 675.0 395.7 710.0 415.0 C745.0 434.3 736.7 425.0 755.0 460.0 C773.3 495.0 773.3 485.0 765.0 520.0 C756.7 555.0 761.7 545.0 730.0 565.0 C698.3 585.0 708.3 581.7 670.0 580.0 C631.7 578.3 643.3 580.0 615.0 560.0 C586.7 540.0 596.7 550.0 585.0 520.0 C573.3 490.0 575.0 501.7 580.0 470.0Z" fill="#f7ebc6" stroke="#c7ab78" stroke-width="4.8"/>
<path d="M632.0 492.0 C644.7 484.7 640.7 487.3 670.0 470.0 C699.3 452.7 703.3 450.0 720.0 440.0" fill="none" stroke="#cdb07c" stroke-width="4.0" stroke-linecap="round"/>
<path d="M632.0 492.0 C648.0 494.7 640.7 497.3 680.0 500.0 C719.3 502.7 726.7 500.0 750.0 500.0" fill="none" stroke="#cdb07c" stroke-width="4.0" stroke-linecap="round"/>
<path d="M632.0 492.0 C644.7 504.7 647.3 505.7 670.0 530.0 C692.7 554.3 690.0 553.3 700.0 565.0" fill="none" stroke="#cdb07c" stroke-width="4.0" stroke-linecap="round"/>
<path d="M632.0 492.0 C634.7 478.0 630.7 475.7 640.0 450.0 C649.3 424.3 653.3 426.7 660.0 415.0" fill="none" stroke="#cdb07c" stroke-width="4.0" stroke-linecap="round"/>
<path d="M632.0 492.0 C628.0 504.7 617.3 507.3 620.0 530.0 C622.7 552.7 633.3 550.0 640.0 560.0" fill="none" stroke="#cdb07c" stroke-width="4.0" stroke-linecap="round"/>
<path d="M632.0 492.0 C623.0 484.7 616.3 487.3 605.0 470.0 C593.7 452.7 600.3 450.0 598.0 440.0" fill="none" stroke="#cdb07c" stroke-width="4.0" stroke-linecap="round"/>
<path d="M690.0 455.0 C693.3 446.7 696.7 438.3 700.0 430.0" fill="none" stroke="#cdb07c" stroke-width="4.0" stroke-linecap="round"/>
<path d="M700.0 505.0 C710.0 513.3 720.0 521.7 730.0 530.0" fill="none" stroke="#cdb07c" stroke-width="4.0" stroke-linecap="round"/>
<path d="M660.0 520.0 C656.7 530.0 653.3 540.0 650.0 550.0" fill="none" stroke="#cdb07c" stroke-width="4.0" stroke-linecap="round"/><path d="M58 320 Q45.1 294.8 62 272 Q59.5 242.5 84 226 Q85.7 197.4 112 186 Q120.7 157.1 150 150 Q162.3 122.8 192 120 Q211.3 97.8 240 104 C253.5 108.8 261.6 106.2 285.0 120.0 C308.4 133.8 306.9 129.0 318.0 150.0 C329.1 171.0 330.4 167.2 322.0 190.0 C313.6 212.8 314.6 204.4 290.0 226.0 C265.4 247.6 262.5 230.8 240.0 262.0 C217.5 293.2 217.4 289.2 215.0 330.0 C212.6 370.8 184.9 379.4 232.0 398.0 C279.1 416.6 325.2 386.0 372.0 392.0 C418.8 398.0 396.1 403.0 388.0 418.0 C379.9 433.0 386.4 433.6 345.0 442.0 C303.6 450.4 305.5 446.6 250.0 446.0 C194.5 445.4 206.5 450.8 160.0 440.0 C113.5 429.2 123.2 430.4 95.0 410.0 C66.8 389.6 77.1 399.0 66.0 372.0 C54.9 345.0 60.4 335.6 58.0 320.0 Z" fill="#8e9cb8" stroke="#6c7b98" stroke-width="5.8" stroke-linejoin="round"/>
<path d="M170.0 150.0 C176.7 163.3 166.7 173.3 190.0 190.0 C213.3 206.7 203.3 201.7 240.0 200.0 C276.7 198.3 280.0 190.0 300.0 185.0" fill="none" stroke="#6c7b98" stroke-width="4.8" stroke-linecap="round"/>
<path d="M110.0 215.0 C123.3 221.7 120.0 231.7 150.0 235.0 C180.0 238.3 171.7 218.3 200.0 225.0 C228.3 231.7 223.3 245.0 235.0 255.0" fill="none" stroke="#6c7b98" stroke-width="4.8" stroke-linecap="round"/>
<path d="M75.0 290.0 C90.0 293.3 91.7 303.3 120.0 300.0 C148.3 296.7 133.3 276.7 160.0 280.0 C186.7 283.3 186.7 300.0 200.0 310.0" fill="none" stroke="#6c7b98" stroke-width="4.8" stroke-linecap="round"/>
<path d="M90.0 370.0 C106.7 365.0 106.7 353.3 140.0 355.0 C173.3 356.7 165.0 376.7 190.0 375.0 C215.0 373.3 206.7 358.3 215.0 350.0" fill="none" stroke="#6c7b98" stroke-width="4.8" stroke-linecap="round"/>
<path d="M150.0 420.0 C170.0 413.3 163.3 400.7 210.0 400.0 C256.7 399.3 236.7 416.3 290.0 418.0 C343.3 419.7 343.3 409.3 370.0 405.0" fill="none" stroke="#6c7b98" stroke-width="4.8" stroke-linecap="round"/>
<path d="M230.0 130.0 C236.7 140.0 230.0 150.0 250.0 160.0 C270.0 170.0 276.7 160.0 290.0 160.0" fill="none" stroke="#6c7b98" stroke-width="4.8" stroke-linecap="round"/>
<path d="M130.0 320.0 C143.3 323.3 156.7 326.7 170.0 330.0" fill="none" stroke="#6c7b98" stroke-width="4.8" stroke-linecap="round"/><g transform="translate(425,452) rotate(-28)"><rect x="-38" y="-17" width="76" height="34" rx="17" fill="#e9edf8" stroke="#b9c2dc" stroke-width="2.5"/></g>
<circle cx="372" cy="481" r="22" fill="#f9e9c2" stroke="#c9a56c" stroke-width="3"/>
</g>
<path d="M546 537.4 L528.6 551.8" stroke="#4a4a4a" stroke-width="1.1" fill="none"/>
<path d="M588.4 556.4 L559.6 582" stroke="#4a4a4a" stroke-width="1.1" fill="none"/>
<path d="M600.5 551.4 L658 578.4" stroke="#4a4a4a" stroke-width="1.1" fill="none"/>
<text x="508.8" y="563.5" font-size="14.2" text-anchor="start" fill="#231f20" textLength="31.2" lengthAdjust="spacingAndGlyphs" >PFC</text>
<text x="517.2" y="594.1" font-size="14.2" text-anchor="start" fill="#231f20" textLength="70.4" lengthAdjust="spacingAndGlyphs" >Amygdala</text>
<text x="643.4" y="594.5" font-size="14.2" text-anchor="start" fill="#231f20" textLength="97.0" lengthAdjust="spacingAndGlyphs" >Hippocampus</text>
<text x="536.2" y="625.1" font-size="14.2" text-anchor="start" fill="#231f20" textLength="150.0" lengthAdjust="spacingAndGlyphs" >Densities of glial cells</text>
<path d="M696.4 612.2 L696.4 625.0" stroke="#5797d8" stroke-width="2.0" fill="none"/><path d="M693.3 624.0 L696.4 628.8 L699.5 624.0 Z" fill="#5797d8" stroke="#5797d8" stroke-width=".6" stroke-linejoin="round"/>
<g transform="translate(330,405) scale(0.20555)">
<defs><linearGradient id="rkG" x1="0" y1="0" x2="0" y2="1"><stop offset="0" stop-color="#82afd6"/><stop offset="1" stop-color="#5a8dbd"/></linearGradient>
<linearGradient id="rkB" x1="0" y1="0" x2="0" y2="1"><stop offset="0" stop-color="#6d93b5"/><stop offset="1" stop-color="#557d9f"/></linearGradient>
<linearGradient id="boltG" x1="0" y1="0" x2="0" y2="1"><stop offset="0" stop-color="#3a86d4"/><stop offset="1" stop-color="#6a58ae"/></linearGradient></defs>
<path d="M270 200 C285 120 320 70 352 70 C395 70 425 110 440 170 L440 300 L270 300Z" fill="url(#rkB)" stroke="#3f78a8" stroke-width="4" stroke-linejoin="round"/>
<path d="M660 200 C675 160 690 146 705 148 C745 160 770 300 778 462 L660 462Z" fill="url(#rkB)" stroke="#3f78a8" stroke-width="4" stroke-linejoin="round"/>
<path d="M215 462 C215 300 230 170 292 116 C335 110 365 170 385 260 L400 462Z" fill="url(#rkG)" stroke="#3f78a8" stroke-width="4" stroke-linejoin="round"/>
<path d="M97 462 C96 340 108 190 176 150 C220 160 245 250 255 462Z" fill="url(#rkG)" stroke="#3f78a8" stroke-width="4" stroke-linejoin="round"/>
<path d="M500 462 C495 300 505 120 590 65 C660 80 705 180 730 300 C742 360 750 420 752 462Z" fill="url(#rkG)" stroke="#3f78a8" stroke-width="4" stroke-linejoin="round"/>
<path d="M350 462 C350 340 370 180 470 116 C540 130 590 240 612 340 C620 390 625 430 626 462Z" fill="url(#rkG)" stroke="#3f78a8" stroke-width="4" stroke-linejoin="round"/>
<path d="M160 175 C185 210 205 270 215 340" fill="none" stroke="#3f78a8" stroke-width="3" stroke-linecap="round"/>
<path d="M300 150 C330 190 350 250 360 300" fill="none" stroke="#3f78a8" stroke-width="3" stroke-linecap="round"/>
<path d="M500 190 C540 230 565 290 575 350" fill="none" stroke="#3f78a8" stroke-width="3" stroke-linecap="round"/>
<path d="M530 260 C548 290 556 320 560 350" fill="none" stroke="#3f78a8" stroke-width="3" stroke-linecap="round"/>
<path d="M620 120 C660 170 690 250 700 330" fill="none" stroke="#3f78a8" stroke-width="3" stroke-linecap="round"/>
<path d="M650 230 C670 270 680 310 684 345" fill="none" stroke="#3f78a8" stroke-width="3" stroke-linecap="round"/>
<path d="M40 72 L78 100 L58 112 L112 172 L44 128 L64 117 L20 96Z" fill="url(#boltG)"/>
<path d="M132 18 L162 24 L150 70 L176 64 L160 168 L142 100 L113 106Z" fill="url(#boltG)"/>
<path d="M720 14 L746 30 L722 76 L702 60 L674 122 L684 44 L706 56Z" fill="url(#boltG)"/>
<path d="M440 470 C520 455 600 458 680 462 L560 560 C520 600 470 640 430 650 L380 600Z" fill="#5d4e46"/>
<path d="M540 470 L680 462 L585 540 C570 510 555 490 540 470Z" fill="#3b3838"/>
<path d="M205 515 L120 572 L140 600 L235 560Z" fill="#5d4e46"/>
<path d="M120 572 L100 592 L118 600 L140 600Z" fill="#f6dcc8"/>
<path d="M430 606 L310 684 L326 710 L468 634Z" fill="#5d4e46"/>
<path d="M310 684 L286 704 L304 714 L326 710Z" fill="#f6dcc8"/>
<ellipse cx="182" cy="500" rx="20" ry="26" fill="#f6dcc8"/><ellipse cx="488" cy="498" rx="20" ry="26" fill="#f6dcc8"/>
<ellipse cx="335" cy="492" rx="156" ry="134" fill="#f8e5d6"/><ellipse cx="440" cy="440" rx="44" ry="52" fill="#f8e5d6"/>
<path d="M178 480 C165 380 240 295 340 292 L352 280 L360 292 C440 298 500 370 488 470 C478 445 440 398 388 362 C360 410 280 445 202 458 C190 460 182 470 178 480Z" fill="#a5582b"/>
<circle cx="275" cy="497" r="9" fill="#4a2a1c"/><circle cx="386" cy="495" r="9" fill="#4a2a1c"/>
<path d="M248 464 L296 455" stroke="#6b3a20" stroke-width="5" stroke-linecap="round"/><path d="M368 455 L416 466" stroke="#6b3a20" stroke-width="5" stroke-linecap="round"/>
<circle cx="330" cy="523" r="6" fill="#eeb29c"/>
<path d="M290 582 Q332 556 376 584" fill="none" stroke="#d9626c" stroke-width="6" stroke-linecap="round"/>
<path d="M0 -28 C21 -14 21 28 0 28 C-21 28 -21 -14 0 -28 Z" fill="#78bbf2" stroke="#3f8fdc" stroke-width="2.5" transform="translate(150 408) rotate(65)"/>
<path d="M0 -23 C18 -11 18 23 0 23 C-18 23 -18 -11 0 -23 Z" fill="#78bbf2" stroke="#3f8fdc" stroke-width="2.5" transform="translate(160 452) rotate(48)"/>
<path d="M0 -28 C21 -14 21 28 0 28 C-21 28 -21 -14 0 -28 Z" fill="#78bbf2" stroke="#3f8fdc" stroke-width="2.5" transform="translate(522 368) rotate(-60)"/>
<path d="M0 -23 C18 -11 18 23 0 23 C-18 23 -18 -11 0 -23 Z" fill="#78bbf2" stroke="#3f8fdc" stroke-width="2.5" transform="translate(516 418) rotate(-25)"/>
</g>
<text x="303.8" y="399.3" font-size="14.2" text-anchor="start" fill="#231f20" textLength="167.8" lengthAdjust="spacingAndGlyphs" >Stress, traumatic events</text>
<g transform="matrix(1.102 0 0 1 605.7 363.0)">
<defs><path id="p_hpa" d="M-309.87 -28.39 A313.6 313.6 0 0 1 -142.53 -282.78" fill="none"/><path id="p_mono" d="M-86.53 -297.85 A312.3 312.3 0 0 1 144.02 -280.24" fill="none"/><path id="p_infl" d="M211.21 -227.86 A311.2 311.2 0 0 1 311.72 -12.63" fill="none"/><path id="p_soc" d="M-320.30 38.50 A321.9 321.9 0 0 0 -139.32 289.10" fill="none"/><path id="p_str1" d="M-116.20 293.95 A318.1 318.1 0 0 0 176.59 267.71" fill="none"/><path id="p_str2" d="M-103.30 319.29 A337.0 337.0 0 0 0 133.23 311.59" fill="none"/><path id="p_gen1" d="M214.38 233.79 A317.4 317.4 0 0 0 317.11 16.62" fill="none"/><path id="p_gen2" d="M235.79 239.93 A336.5 336.5 0 0 0 333.02 50.01" fill="none"/></defs>
<text font-size="19.68" stroke="#231f20" stroke-width=".28"><textPath href="#p_hpa" startOffset="0">HPA axis dysfunction hypothesis</textPath></text>
<text class="rn" stroke="#231f20" stroke-width=".35" font-size="20.46" transform="translate(-310.57 -15.19) rotate(-87.20) scale(1.158 1)" x="-0.74" y="0">I</text>
<text font-size="19.89" stroke="#231f20" stroke-width=".28"><textPath href="#p_mono" startOffset="0">Monoamine hypothesis</textPath></text>
<text class="rn" stroke="#231f20" stroke-width=".35" font-size="20.69" transform="translate(-100.88 -292.97) rotate(-19.00) scale(0.829 1)" x="-0.75" y="0">II</text>
<text font-size="19.54" stroke="#231f20" stroke-width=".28"><textPath href="#p_infl" startOffset="0">Inflammatory hypothesis</textPath></text>
<text class="rn" stroke="#231f20" stroke-width=".35" font-size="20.32" transform="translate(197.81 -239.46) rotate(39.56) scale(0.806 1)" x="-0.73" y="0">III</text>
<text font-size="20.59" stroke="#231f20" stroke-width=".28"><textPath href="#p_soc" startOffset="0">Social psychological hypothesis</textPath></text>
<text class="rn" stroke="#231f20" stroke-width=".35" font-size="21.41" transform="translate(-322.35 15.48) rotate(87.25) scale(0.805 1)" x="-0.24" y="0">VI</text>
<text font-size="20.57" stroke="#231f20" stroke-width=".28"><textPath href="#p_str1" startOffset="0">Structural and functional brain</textPath></text>
<text class="rn" stroke="#231f20" stroke-width=".35" font-size="21.39" transform="translate(-130.23 287.76) rotate(24.35) scale(0.775 1)" x="-0.24" y="0">V</text>
<text font-size="20.24" stroke="#231f20" stroke-width=".28"><textPath href="#p_str2" startOffset="0">remodelling hypothesis</textPath></text>
<text font-size="20.89" stroke="#231f20" stroke-width=".28"><textPath href="#p_gen1" startOffset="0">Genetic and epigenetic</textPath></text>
<text class="rn" stroke="#231f20" stroke-width=".35" font-size="21.72" transform="translate(198.52 247.36) rotate(-38.75) scale(0.639 1)" x="-0.78" y="0">IV</text>
<text font-size="20.66" stroke="#231f20" stroke-width=".28"><textPath href="#p_gen2" startOffset="0">anomaly hypothesis</textPath></text>
</g>
<ellipse cx="601.8" cy="366.25" rx="124.5" ry="112.5" fill="#fff" stroke="#b4b4b4" stroke-width="2.4"/>
<defs><clipPath id="cclip"><ellipse cx="601.8" cy="366.25" rx="125.6" ry="113.6"/></clipPath></defs>
<g clip-path="url(#cclip)">
<g transform="translate(510,255) scale(0.21220)">
<g transform="translate(117.81,0.00) scale(0.60533)"><circle cx="188" cy="408" r="52" fill="#e6e6e6"/><circle cx="266" cy="424" r="46" fill="#e6e6e6"/><circle cx="343" cy="426" r="42" fill="#e6e6e6"/><circle cx="238" cy="396" r="42" fill="#e6e6e6"/><circle cx="190" cy="412" r="50" fill="#dcdcdc"/><circle cx="268" cy="428" r="44" fill="#dcdcdc"/><circle cx="345" cy="430" r="40" fill="#dcdcdc"/><circle cx="240" cy="400" r="40" fill="#dcdcdc"/><circle cx="142" cy="264" r="78" fill="#d0d0d1"/><circle cx="264" cy="232" r="92" fill="#d0d0d1"/><circle cx="434" cy="140" r="110" fill="#d0d0d1"/><circle cx="600" cy="204" r="78" fill="#d0d0d1"/><circle cx="334" cy="282" r="86" fill="#d0d0d1"/><circle cx="474" cy="272" r="96" fill="#d0d0d1"/><circle cx="554" cy="272" r="76" fill="#d0d0d1"/><circle cx="204" cy="282" r="76" fill="#d0d0d1"/><circle cx="148" cy="282" r="72" fill="#ababad"/><circle cx="270" cy="250" r="86" fill="#ababad"/><circle cx="440" cy="158" r="104" fill="#ababad"/><circle cx="606" cy="222" r="72" fill="#ababad"/><circle cx="340" cy="300" r="80" fill="#ababad"/><circle cx="480" cy="290" r="90" fill="#ababad"/><circle cx="560" cy="290" r="70" fill="#ababad"/><circle cx="210" cy="300" r="70" fill="#ababad"/><path d="M400 376 L436 354 L456 404 L516 398 L541 592 L500 442 L420 462Z" fill="#efc030"/><circle cx="556" cy="320" r="79" fill="#d8d8d9"/><circle cx="686" cy="292" r="89" fill="#d8d8d9"/><circle cx="828" cy="340" r="69" fill="#d8d8d9"/><circle cx="616" cy="368" r="65" fill="#d8d8d9"/><circle cx="736" cy="370" r="69" fill="#d8d8d9"/><circle cx="560" cy="332" r="76" fill="#bcbcbe"/><circle cx="690" cy="304" r="86" fill="#bcbcbe"/><circle cx="832" cy="352" r="66" fill="#bcbcbe"/><circle cx="620" cy="380" r="62" fill="#bcbcbe"/><circle cx="740" cy="382" r="66" fill="#bcbcbe"/></g>
<path d="M238 318 l-7 24" stroke="#bcd3de" stroke-width="3.2" stroke-linecap="round"/>
<path d="M270 360 l-7 24" stroke="#bcd3de" stroke-width="3.2" stroke-linecap="round"/>
<path d="M318 330 l-7 24" stroke="#bcd3de" stroke-width="3.2" stroke-linecap="round"/>
<path d="M352 335 l-7 24" stroke="#bcd3de" stroke-width="3.2" stroke-linecap="round"/>
<path d="M300 390 l-7 24" stroke="#bcd3de" stroke-width="3.2" stroke-linecap="round"/>
<path d="M396 330 l-7 24" stroke="#bcd3de" stroke-width="3.2" stroke-linecap="round"/>
<path d="M455 372 l-7 24" stroke="#bcd3de" stroke-width="3.2" stroke-linecap="round"/>
<path d="M490 318 l-7 24" stroke="#bcd3de" stroke-width="3.2" stroke-linecap="round"/>
<path d="M505 390 l-7 24" stroke="#bcd3de" stroke-width="3.2" stroke-linecap="round"/>
<path d="M246 405 l-7 24" stroke="#bcd3de" stroke-width="3.2" stroke-linecap="round"/>
<path d="M410 420 l-7 24" stroke="#bcd3de" stroke-width="3.2" stroke-linecap="round"/>
<path d="M360 408 l-7 24" stroke="#bcd3de" stroke-width="3.2" stroke-linecap="round"/>
<path d="M470 440 l-7 24" stroke="#bcd3de" stroke-width="3.2" stroke-linecap="round"/>
<path d="M380 470 l-7 24" stroke="#bcd3de" stroke-width="3.2" stroke-linecap="round"/>
<path d="M400 520 l-7 24" stroke="#bcd3de" stroke-width="3.2" stroke-linecap="round"/>
<path d="M480 520 l-7 24" stroke="#bcd3de" stroke-width="3.2" stroke-linecap="round"/>
<path d="M445 600 l-7 24" stroke="#bcd3de" stroke-width="3.2" stroke-linecap="round"/>
<path d="M560 560 l-7 24" stroke="#bcd3de" stroke-width="3.2" stroke-linecap="round"/>
<path d="M330 440 l-7 24" stroke="#bcd3de" stroke-width="3.2" stroke-linecap="round"/>
<path d="M520 460 l-7 24" stroke="#bcd3de" stroke-width="3.2" stroke-linecap="round"/>
<path d="M560 330 l-7 24" stroke="#bcd3de" stroke-width="3.2" stroke-linecap="round"/>
<path d="M292 455 l-7 24" stroke="#bcd3de" stroke-width="3.2" stroke-linecap="round"/>
<path d="M430 375 l-7 24" stroke="#bcd3de" stroke-width="3.2" stroke-linecap="round"/>
<path d="M470.0 531.0 C470.0 523.0 456.7 529.7 440.0 516.0 C423.3 502.3 432.0 510.3 420.0 490.0 C408.0 469.7 418.7 476.7 404.0 455.0 C389.3 433.3 397.3 441.3 376.0 425.0 C354.7 408.7 365.3 415.7 340.0 406.0 C314.7 396.3 328.3 400.0 300.0 396.0 C271.7 392.0 288.3 391.3 255.0 394.0 C221.7 396.7 235.0 394.7 200.0 404.0 C165.0 413.3 181.7 408.0 150.0 422.0 C118.3 436.0 131.7 428.7 105.0 446.0 C78.3 463.3 88.3 454.3 70.0 474.0 C51.7 493.7 58.7 483.0 50.0 505.0 C41.3 527.0 44.7 515.0 44.0 540.0 C43.3 565.0 42.0 552.7 48.0 580.0 C54.0 607.3 48.7 595.3 62.0 622.0 C75.3 648.7 67.3 636.7 88.0 660.0 C108.7 683.3 98.3 674.7 124.0 692.0 C149.7 709.3 138.0 702.0 165.0 712.0 C192.0 722.0 176.7 720.7 205.0 722.0 C233.3 723.3 220.0 723.3 250.0 716.0 C280.0 708.7 267.7 712.7 295.0 700.0 C322.3 687.3 309.0 695.3 332.0 678.0 C355.0 660.7 345.3 669.3 364.0 648.0 C382.7 626.7 374.7 635.3 388.0 614.0 C401.3 592.7 394.0 602.7 404.0 584.0 C414.0 565.3 406.0 572.7 418.0 558.0 C430.0 543.3 422.7 549.0 440.0 540.0 C457.3 531.0 470.0 539.0 470.0 531.0Z" fill="#fff" fill-opacity=".55" stroke="#2b2b2b" stroke-width="5" stroke-linejoin="round"/>
<path d="M300.1 449.1 C298.5 517.9 342.7 584.1 296.2 620.9 C249.7 657.7 163.1 584.9 183.8 541.1 C204.5 497.3 333.6 492.3 348.0 511.4 C362.4 530.5 271.9 584.5 219.9 588.9 C167.8 593.2 163.1 518.3 217.9 522.3 C272.6 526.4 391.1 551.8 356.8 598.9 C322.5 646.1 158.2 690.7 132.1 640.3 C105.9 589.8 238.2 490.2 291.4 472.8 C344.6 455.4 326.1 561.0 265.0 596.7 C204.0 632.4 141.8 597.3 138.8 562.1 C135.9 527.0 201.1 503.5 257.7 508.8 C314.3 514.0 322.8 551.0 280.3 575.3 C237.8 599.5 133.4 597.6 151.3 569.5 C169.2 541.4 294.2 481.2 325.1 505.0 C355.9 528.8 280.0 633.8 228.5 629.0 C177.1 624.3 124.0 523.3 196.5 493.2 C269.0 463.1 444.7 514.2 409.7 553.6 C374.7 593.1 157.2 610.9 108.9 591.9 C60.7 572.9 218.9 501.6 289.0 506.2 C359.0 510.7 354.6 574.6 284.1 603.3 C213.5 631.9 105.6 636.3 112.6 577.8 C119.5 519.3 214.6 426.8 301.4 457.1 C388.3 487.4 318.4 575.0 329.6 653.6" fill="none" stroke="#3a3a3a" stroke-width="2.6" stroke-linecap="round" stroke-linejoin="round"/>
<path d="M262.0 575.8 C233.8 548.2 183.6 504.1 191.4 506.7 C199.3 509.3 294.3 558.2 281.7 582.3 C269.1 606.4 161.9 588.9 159.9 567.0 C157.9 545.1 247.4 516.5 276.8 527.5 C306.1 538.5 248.2 620.7 233.2 594.5 C218.3 568.4 224.2 471.3 239.5 462.2 C254.8 453.2 281.1 535.2 271.4 571.9 C261.7 608.6 216.3 570.0 215.2 553.9 C214.1 537.9 273.1 514.8 268.8 531.8 C264.5 548.7 227.0 621.9 204.4 596.3 C181.9 570.8 168.4 476.2 212.4 468.0 C256.5 459.7 324.7 532.2 314.5 575.6 C304.3 619.1 214.1 603.8 186.9 576.6 C159.7 549.5 230.9 483.5 246.6 507.8 C262.2 532.1 254.0 653.0 226.0 637.3 C198.0 621.5 149.0 501.6 176.5 468.4 C204.1 435.3 303.0 520.8 294.8 554.5 C286.6 588.2 153.7 591.4 156.1 552.7 C158.5 514.0 263.5 444.2 300.8 457.7 C338.1 471.3 284.6 566.4 249.3 586.6 C213.9 606.7 207.3 520.7 212.4 508.0 C217.4 495.2 275.8 521.6 262.0 554.7 C248.1 587.7 183.7 621.6 177.7 590.5 C171.7 559.5 209.6 474.4 247.0 477.1 C284.4 479.7 290.6 588.3 271.2 597.2 C251.9 606.0 174.6 501.7 198.6 499.3 C222.7 496.9 327.9 567.0 331.4 591.1 C334.9 615.3 210.2 595.1 207.3 559.6 C204.5 524.0 315.7 493.9 324.3 502.3 C332.9 510.7 265.4 603.2 228.8 580.5 C192.1 557.9 193.7 432.7 232.6 445.6 C271.5 458.5 351.1 586.1 326.0 612.8 C301.0 639.6 194.1 539.5 170.0 512.5 C146.0 485.5 259.3 493.8 266.0 545.4 C272.6 596.9 209.5 670.9 186.7 641.4 C163.8 611.9 152.1 493.1 208.8 471.7 C265.5 450.2 335.5 557.4 328.4 587.9 C321.2 618.3 203.6 588.8 190.9 547.8 C178.1 506.9 273.4 471.1 296.5 485.5 C319.6 499.9 300.1 586.6 248.6 583.9 C197.2 581.1 155.3 486.5 167.9 478.7 C180.6 470.8 266.9 540.2 280.2 564.2 C293.6 588.2 205.1 556.3 201.3 538.6 C197.4 520.9 258.0 507.8 270.6 520.0 C283.2 532.3 258.9 574.1 232.8 569.2 C206.6 564.4 192.0 511.4 205.2 507.9 C218.4 504.5 294.4 535.9 265.7 560.5 C237.0 585.1 112.5 583.0 133.5 569.5 C154.6 555.9 244.4 543.8 318.3 526.7" fill="none" stroke="#2e2e2e" stroke-width="2.9" stroke-linecap="round" stroke-linejoin="round"/>
<path d="M281.8 547.1 C261.8 560.7 266.7 609.8 231.8 580.9 C196.8 552.1 179.3 482.8 194.5 475.0 C209.6 467.3 278.1 522.5 269.7 561.6 C261.2 600.7 179.3 600.5 173.3 572.8 C167.3 545.0 226.1 487.8 254.7 492.2 C283.3 496.7 284.6 574.6 244.8 584.0 C205.1 593.4 125.7 540.5 155.3 515.7 C184.9 491.0 302.3 479.2 318.9 522.0 C335.4 564.9 234.0 636.5 196.7 622.9 C159.3 609.2 176.4 499.9 225.6 488.0 C274.7 476.1 340.9 567.1 319.4 593.1 C298.0 619.1 181.2 600.4 171.9 553.1 C162.7 505.7 262.0 448.8 296.3 474.7 C330.6 500.5 311.9 593.4 257.7 617.7 C203.5 642.0 157.9 576.0 160.9 535.4 C163.8 494.8 229.6 472.8 265.1 516.1 C300.6 559.5 285.7 655.2 249.6 643.7 C213.6 632.2 148.4 538.9 174.9 487.3 C201.5 435.6 297.8 466.7 316.1 514.6 C334.4 562.4 260.3 609.2 220.7 606.9 C181.0 604.6 196.2 529.2 217.0 508.9 C237.7 488.7 287.2 526.2 272.6 556.3 C257.9 586.3 207.1 618.5 180.3 584.0 C153.6 549.6 152.6 481.0 205.7 470.1 C258.8 459.1 320.1 517.4 313.0 556.6 C305.9 595.9 228.2 592.7 188.0 568.2 C147.9 543.6 174.2 499.2 212.6 495.3 C251.0 491.4 292.8 505.3 284.1 558.4 C275.4 611.6 220.4 657.1 190.8 628.2 C161.2 599.4 171.8 508.4 210.2 486.3 C248.5 464.2 295.1 542.8 286.8 573.0 C278.4 603.1 205.8 607.6 189.3 561.7 C172.8 515.7 207.7 432.8 245.5 458.1 C283.3 483.4 317.8 587.0 283.9 624.9 C249.9 662.8 175.5 601.9 160.6 552.9 C145.8 503.9 189.7 480.8 246.7 502.4 C303.7 523.9 341.2 592.0 303.2 606.8 C265.2 621.6 159.5 574.6 151.7 539.3 C143.9 504.1 241.6 491.9 283.8 518.6 C326.0 545.2 296.7 595.0 257.3 606.0 C217.8 616.9 180.7 597.9 185.1 545.9 C189.6 494.0 234.5 458.4 268.4 476.0 C302.2 493.7 269.2 544.4 269.7 590.0" fill="none" stroke="#333" stroke-width="2.7" stroke-linecap="round" stroke-linejoin="round"/>
<path d="M296.1 611.2 C286.2 586.9 256.6 569.1 271.2 550.4 C285.9 531.7 346.6 550.5 332.7 564.6 C318.9 578.6 242.8 613.4 236.6 585.6 C230.4 557.8 278.4 497.9 317.2 495.1 C356.1 492.3 352.9 549.4 333.7 578.6 C314.4 607.7 267.7 583.5 269.1 567.9 C270.6 552.3 322.5 531.4 337.2 539.5 C351.9 547.6 338.1 593.0 305.9 588.2 C273.6 583.4 228.9 533.9 256.5 527.5 C284.1 521.1 394.9 550.3 374.8 572.2 C354.7 594.2 224.2 596.7 206.3 582.3 C188.4 567.9 292.2 530.8 329.9 536.3 C367.7 541.7 312.4 572.1 300.7 596.0" fill="none" stroke="#3a3a3a" stroke-width="2.4" stroke-linecap="round" stroke-linejoin="round"/>
</g>
<g transform="translate(620,280) scale(0.25208)">
<path d="M118.0 300.0 C112.7 344.0 118.4 367.7 120.0 405.0 C121.6 442.3 121.9 420.5 124.0 440.0 C126.1 459.5 134.9 456.1 128.0 478.0 C121.1 499.9 104.4 505.5 98.0 522.0 C91.6 538.5 94.4 532.0 104.0 540.0 C113.6 548.0 125.5 542.7 134.0 552.0 C142.5 561.3 131.2 564.3 136.0 575.0 C140.8 585.7 148.3 582.1 152.0 592.0 C155.7 601.9 143.6 599.2 150.0 612.0 C156.4 624.8 163.7 622.4 176.0 640.0 C188.3 657.6 183.7 664.7 196.0 678.0 C208.3 691.3 204.4 692.7 222.0 690.0 C239.6 687.3 238.0 686.7 262.0 668.0 C286.0 649.3 289.9 642.1 312.0 620.0 C334.1 597.9 334.3 611.7 345.0 585.0 C355.7 558.3 356.0 569.3 352.0 520.0 C348.0 470.7 351.9 458.7 330.0 400.0 C308.1 341.3 304.7 342.7 270.0 300.0 C235.3 257.3 234.7 256.0 200.0 240.0 C165.3 224.0 161.9 224.0 140.0 240.0 C118.1 256.0 123.3 256.0 118.0 300.0Z" fill="#f8e6da" stroke="#5a3a2a" stroke-width="2.5" stroke-linejoin="round"/>
<defs><radialGradient id="blG"><stop offset="0" stop-color="#e4969b" stop-opacity=".85"/><stop offset="1" stop-color="#eeb0b0" stop-opacity="0"/></radialGradient></defs>
<ellipse cx="236" cy="522" rx="72" ry="42" fill="url(#blG)"/>
<path d="M158 410 Q192 390 230 414" fill="none" stroke="#3a2a24" stroke-width="6.5" stroke-linecap="round"/>
<path d="M255 432 L192 462 L262 488" fill="none" stroke="#33241e" stroke-width="11" stroke-linejoin="miter"/>
<path d="M150 398 L170 390" stroke="#6b4a3a" stroke-width="3" stroke-linecap="round"/>
<path d="M166 600 C186 584 214 590 236 618 C220 612 200 612 186 622 C180 612 174 604 166 600Z" fill="#b8403c" stroke="#6a2a26" stroke-width="2.5" stroke-linejoin="round"/>
<path d="M186 622 C198 612 218 612 236 618 C222 626 200 628 186 622Z" fill="#e98a86"/>
<path d="M312.0 64.0 C281.7 51.9 283.1 70.3 250.0 88.0 C216.9 105.7 205.0 112.7 170.0 140.0 C135.0 167.3 125.2 176.5 100.0 205.0 C74.8 233.5 74.6 235.6 62.0 262.0 C49.4 288.4 50.2 292.3 46.0 318.0 C41.8 343.7 37.9 349.1 44.0 372.0 C50.1 394.9 59.4 408.5 72.0 416.0 C84.6 423.5 88.2 404.9 98.0 404.0 C107.8 403.1 110.3 433.9 114.0 412.0 C117.7 390.1 110.7 345.0 114.0 310.0 C117.3 275.0 119.1 277.4 128.0 262.0 C136.9 246.6 138.9 244.0 152.0 244.0 C165.1 244.0 171.4 244.3 184.0 262.0 C196.6 279.7 193.4 289.7 206.0 320.0 C218.6 350.3 218.4 370.5 238.0 392.0 C257.6 413.5 268.5 405.5 290.0 412.0 C311.5 418.5 318.3 406.5 330.0 420.0 C341.7 433.5 335.3 437.3 340.0 470.0 C344.7 502.7 347.2 532.0 350.0 560.0 C352.8 588.0 335.7 599.3 352.0 590.0 C368.3 580.7 399.5 564.3 420.0 520.0 C440.5 475.7 440.0 463.0 440.0 400.0 C440.0 337.0 434.0 310.7 420.0 250.0 C406.0 189.3 405.2 183.4 380.0 140.0 C354.8 96.6 342.3 76.1 312.0 64.0Z" fill="#9d6c50" stroke="#5a3a2a" stroke-width="3" stroke-linejoin="round"/>
<path d="M176.0 262.0 C179.3 274.7 176.7 272.3 186.0 300.0 C195.3 327.7 198.0 330.0 204.0 345.0" fill="none" stroke="#7d5038" stroke-width="3" stroke-linecap="round"/>
<path d="M250.0 250.0 C263.3 280.0 266.0 286.7 290.0 340.0 C314.0 393.3 311.3 386.7 322.0 410.0" fill="none" stroke="#7d5038" stroke-width="3" stroke-linecap="round"/>
<path d="M300.0 300.0 C310.0 326.7 315.0 323.3 330.0 380.0 C345.0 436.7 340.0 440.0 345.0 470.0" fill="none" stroke="#7d5038" stroke-width="3" stroke-linecap="round"/>
<path d="M92.0 250.0 C89.3 273.3 82.7 272.7 84.0 320.0 C85.3 367.3 92.0 368.0 96.0 392.0" fill="none" stroke="#7d5038" stroke-width="3" stroke-linecap="round"/>
<path d="M330.0 420.0 C317.2 374.7 316.0 372.7 300.0 330.0 C284.0 287.3 262.0 268.0 270.0 260.0 C278.0 252.0 298.0 257.3 330.0 300.0 C362.0 342.7 371.3 361.3 390.0 420.0 C408.7 478.7 410.1 474.7 400.0 520.0 C389.9 565.3 365.9 595.3 352.0 590.0 C338.1 584.7 353.9 545.3 348.0 500.0 C342.1 454.7 342.8 465.3 330.0 420.0Z" fill="#86583f" opacity=".55"/>
<ellipse cx="178" cy="180" rx="20" ry="12" fill="#d9b49e" transform="rotate(-35 178 180)"/>
<ellipse cx="212" cy="186" rx="7" ry="6" fill="#d9b49e"/>
<path d="M120 205 Q140 175 165 160" fill="none" stroke="#c39a82" stroke-width="8" stroke-linecap="round" opacity=".8"/>
</g>
</g>
<text x="518.0" y="447.2" font-size="15.0" text-anchor="start" fill="#231f20" textLength="145.6" lengthAdjust="spacingAndGlyphs" >MDD pathogenesis</text>
</svg></body></html>
